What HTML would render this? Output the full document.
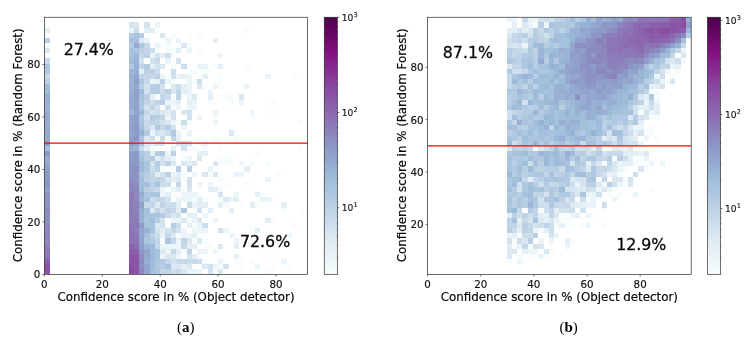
<!DOCTYPE html>
<html><head><meta charset="utf-8"><title>Confidence score histograms</title>
<style>
html,body{margin:0;padding:0;background:#fff;}
body{width:754px;height:339px;overflow:hidden;}
svg{display:block;}
.tk{font-family:"DejaVu Sans","Liberation Sans",sans-serif;font-size:10.3px;fill:#111;stroke:#111;stroke-width:0.15px;}
.cb{font-family:"DejaVu Sans","Liberation Sans",sans-serif;font-size:9.1px;fill:#111;stroke:#111;stroke-width:0.12px;}
.lb{font-family:"DejaVu Sans","Liberation Sans",sans-serif;font-size:11.85px;fill:#0a0a0a;stroke:#0a0a0a;stroke-width:0.2px;}
.pc{font-family:"DejaVu Sans","Liberation Sans",sans-serif;font-size:15.8px;fill:#0a0a0a;stroke:#0a0a0a;stroke-width:0.3px;}
.cap{font-family:"Liberation Serif","DejaVu Serif",serif;font-size:15px;fill:#000;}
</style></head><body>
<svg width="754" height="339" viewBox="0 0 754 339">
<rect width="754" height="339" fill="#fff"/>
<defs><filter id="bl" x="-2%" y="-2%" width="104%" height="104%"><feGaussianBlur stdDeviation="0.6"/></filter>
<clipPath id="ca"><rect x="44.35" y="17.25" width="263.25" height="257.15"/></clipPath>
<clipPath id="cbp"><rect x="427.55" y="17.25" width="263.65" height="257.2"/></clipPath></defs>
<g id="ha" shape-rendering="crispEdges" filter="url(#bl)" clip-path="url(#ca)"><rect x="44.35" y="269.26" width="5.27" height="5.14" fill="#8a56a7"/>
<rect x="128.59" y="269.26" width="5.27" height="5.14" fill="#894ca2"/>
<rect x="133.86" y="269.26" width="5.26" height="5.14" fill="#8a55a7"/>
<rect x="139.12" y="269.26" width="5.26" height="5.14" fill="#8c88bf"/>
<rect x="144.38" y="269.26" width="5.27" height="5.14" fill="#92a3cd"/>
<rect x="149.65" y="269.26" width="5.27" height="5.14" fill="#a2bfdb"/>
<rect x="154.92" y="269.26" width="5.26" height="5.14" fill="#aec7e0"/>
<rect x="160.18" y="269.26" width="10.53" height="5.14" fill="#c2d5e7"/>
<rect x="170.71" y="269.26" width="5.26" height="5.14" fill="#ccddec"/>
<rect x="175.97" y="269.26" width="5.26" height="5.14" fill="#c6d8e9"/>
<rect x="181.24" y="269.26" width="5.27" height="5.14" fill="#dbe8f2"/>
<rect x="186.50" y="269.26" width="15.79" height="5.14" fill="#ebf4f8"/>
<rect x="207.56" y="269.26" width="5.26" height="5.14" fill="#d2e2ee"/>
<rect x="212.83" y="269.26" width="5.27" height="5.14" fill="#f7fcfd"/>
<rect x="218.09" y="269.26" width="5.27" height="5.14" fill="#dbe8f2"/>
<rect x="265.48" y="269.26" width="5.26" height="5.14" fill="#f7fcfd"/>
<rect x="44.35" y="264.11" width="5.27" height="5.14" fill="#8a51a5"/>
<rect x="128.59" y="264.11" width="5.27" height="5.14" fill="#8950a4"/>
<rect x="133.86" y="264.11" width="5.26" height="5.14" fill="#8a56a7"/>
<rect x="139.12" y="264.11" width="5.26" height="5.14" fill="#8c91c4"/>
<rect x="144.38" y="264.11" width="5.27" height="5.14" fill="#93a5ce"/>
<rect x="149.65" y="264.11" width="5.27" height="5.14" fill="#9ebcda"/>
<rect x="154.92" y="264.11" width="5.26" height="5.14" fill="#b1c9e1"/>
<rect x="160.18" y="264.11" width="5.26" height="5.14" fill="#b9cee4"/>
<rect x="165.44" y="264.11" width="5.27" height="5.14" fill="#a9c4de"/>
<rect x="170.71" y="264.11" width="10.53" height="5.14" fill="#dbe8f2"/>
<rect x="181.24" y="264.11" width="5.27" height="5.14" fill="#e3eef5"/>
<rect x="186.50" y="264.11" width="5.27" height="5.14" fill="#dbe8f2"/>
<rect x="191.77" y="264.11" width="5.26" height="5.14" fill="#f7fcfd"/>
<rect x="202.30" y="264.11" width="5.27" height="5.14" fill="#dbe8f2"/>
<rect x="207.56" y="264.11" width="5.26" height="5.14" fill="#d2e2ee"/>
<rect x="212.83" y="264.11" width="5.27" height="5.14" fill="#ebf4f8"/>
<rect x="218.09" y="264.11" width="5.27" height="5.14" fill="#f7fcfd"/>
<rect x="223.36" y="264.11" width="5.26" height="5.14" fill="#d2e2ee"/>
<rect x="239.16" y="264.11" width="5.26" height="5.14" fill="#f7fcfd"/>
<rect x="254.95" y="264.11" width="5.26" height="5.14" fill="#ebf4f8"/>
<rect x="270.75" y="264.11" width="5.26" height="5.14" fill="#f7fcfd"/>
<rect x="286.54" y="264.11" width="5.26" height="5.14" fill="#f7fcfd"/>
<rect x="44.35" y="258.97" width="5.27" height="5.14" fill="#8b5daa"/>
<rect x="128.59" y="258.97" width="5.27" height="5.14" fill="#8a51a5"/>
<rect x="133.86" y="258.97" width="5.26" height="5.14" fill="#8a54a6"/>
<rect x="139.12" y="258.97" width="5.26" height="5.14" fill="#8c8bc0"/>
<rect x="144.38" y="258.97" width="5.27" height="5.14" fill="#98aed3"/>
<rect x="149.65" y="258.97" width="5.27" height="5.14" fill="#9ebcda"/>
<rect x="154.92" y="258.97" width="5.26" height="5.14" fill="#aec7e0"/>
<rect x="160.18" y="258.97" width="5.26" height="5.14" fill="#b1c9e1"/>
<rect x="165.44" y="258.97" width="5.27" height="5.14" fill="#c6d8e9"/>
<rect x="170.71" y="258.97" width="5.26" height="5.14" fill="#d2e2ee"/>
<rect x="175.97" y="258.97" width="10.53" height="5.14" fill="#c6d8e9"/>
<rect x="186.50" y="258.97" width="5.27" height="5.14" fill="#ccddec"/>
<rect x="191.77" y="258.97" width="5.26" height="5.14" fill="#c6d8e9"/>
<rect x="197.03" y="258.97" width="5.26" height="5.14" fill="#ccddec"/>
<rect x="202.30" y="258.97" width="5.27" height="5.14" fill="#f7fcfd"/>
<rect x="218.09" y="258.97" width="5.27" height="5.14" fill="#ebf4f8"/>
<rect x="233.89" y="258.97" width="10.53" height="5.14" fill="#f7fcfd"/>
<rect x="249.69" y="258.97" width="5.26" height="5.14" fill="#f7fcfd"/>
<rect x="281.28" y="258.97" width="5.26" height="5.14" fill="#ebf4f8"/>
<rect x="44.35" y="253.83" width="5.27" height="5.14" fill="#8c75b6"/>
<rect x="128.59" y="253.83" width="5.27" height="5.14" fill="#8a55a7"/>
<rect x="133.86" y="253.83" width="5.26" height="5.14" fill="#8a56a7"/>
<rect x="139.12" y="253.83" width="5.26" height="5.14" fill="#8c93c4"/>
<rect x="144.38" y="253.83" width="5.27" height="5.14" fill="#95a8d0"/>
<rect x="149.65" y="253.83" width="5.27" height="5.14" fill="#9db9d9"/>
<rect x="154.92" y="253.83" width="5.26" height="5.14" fill="#a9c4de"/>
<rect x="160.18" y="253.83" width="5.26" height="5.14" fill="#ebf4f8"/>
<rect x="165.44" y="253.83" width="10.53" height="5.14" fill="#dbe8f2"/>
<rect x="175.97" y="253.83" width="5.26" height="5.14" fill="#ebf4f8"/>
<rect x="186.50" y="253.83" width="5.27" height="5.14" fill="#d2e2ee"/>
<rect x="191.77" y="253.83" width="5.26" height="5.14" fill="#e3eef5"/>
<rect x="197.03" y="253.83" width="5.26" height="5.14" fill="#f7fcfd"/>
<rect x="233.89" y="253.83" width="5.26" height="5.14" fill="#e3eef5"/>
<rect x="270.75" y="253.83" width="5.26" height="5.14" fill="#f7fcfd"/>
<rect x="44.35" y="248.68" width="5.27" height="5.14" fill="#8c79b8"/>
<rect x="128.59" y="248.68" width="5.27" height="5.14" fill="#8b5daa"/>
<rect x="133.86" y="248.68" width="5.26" height="5.14" fill="#8b61ac"/>
<rect x="139.12" y="248.68" width="5.26" height="5.14" fill="#8d98c7"/>
<rect x="144.38" y="248.68" width="5.27" height="5.14" fill="#94a6ce"/>
<rect x="149.65" y="248.68" width="5.27" height="5.14" fill="#a0bddb"/>
<rect x="154.92" y="248.68" width="5.26" height="5.14" fill="#a6c2dd"/>
<rect x="160.18" y="248.68" width="5.26" height="5.14" fill="#dbe8f2"/>
<rect x="165.44" y="248.68" width="5.27" height="5.14" fill="#ebf4f8"/>
<rect x="170.71" y="248.68" width="5.26" height="5.14" fill="#c6d8e9"/>
<rect x="175.97" y="248.68" width="5.26" height="5.14" fill="#e3eef5"/>
<rect x="181.24" y="248.68" width="5.27" height="5.14" fill="#f7fcfd"/>
<rect x="186.50" y="248.68" width="5.27" height="5.14" fill="#c2d5e7"/>
<rect x="197.03" y="248.68" width="10.53" height="5.14" fill="#ebf4f8"/>
<rect x="212.83" y="248.68" width="5.27" height="5.14" fill="#ebf4f8"/>
<rect x="44.35" y="243.54" width="5.27" height="5.14" fill="#8c82bc"/>
<rect x="128.59" y="243.54" width="5.27" height="5.14" fill="#8b64ad"/>
<rect x="133.86" y="243.54" width="5.26" height="5.14" fill="#8c6cb1"/>
<rect x="139.12" y="243.54" width="5.26" height="5.14" fill="#909eca"/>
<rect x="144.38" y="243.54" width="5.27" height="5.14" fill="#9ab4d6"/>
<rect x="149.65" y="243.54" width="5.27" height="5.14" fill="#9ebcda"/>
<rect x="154.92" y="243.54" width="5.26" height="5.14" fill="#c6d8e9"/>
<rect x="160.18" y="243.54" width="21.06" height="5.14" fill="#ebf4f8"/>
<rect x="181.24" y="243.54" width="5.27" height="5.14" fill="#c6d8e9"/>
<rect x="186.50" y="243.54" width="10.53" height="5.14" fill="#e3eef5"/>
<rect x="207.56" y="243.54" width="5.26" height="5.14" fill="#f7fcfd"/>
<rect x="218.09" y="243.54" width="5.27" height="5.14" fill="#dbe8f2"/>
<rect x="233.89" y="243.54" width="5.26" height="5.14" fill="#e3eef5"/>
<rect x="254.95" y="243.54" width="5.26" height="5.14" fill="#f7fcfd"/>
<rect x="270.75" y="243.54" width="5.26" height="5.14" fill="#f7fcfd"/>
<rect x="44.35" y="238.40" width="5.27" height="5.14" fill="#8c8bc0"/>
<rect x="128.59" y="238.40" width="5.27" height="5.14" fill="#8c72b5"/>
<rect x="133.86" y="238.40" width="5.26" height="5.14" fill="#8c74b5"/>
<rect x="139.12" y="238.40" width="5.26" height="5.14" fill="#92a3cd"/>
<rect x="144.38" y="238.40" width="5.27" height="5.14" fill="#abc5df"/>
<rect x="149.65" y="238.40" width="5.27" height="5.14" fill="#b1c9e1"/>
<rect x="154.92" y="238.40" width="5.26" height="5.14" fill="#c2d5e7"/>
<rect x="160.18" y="238.40" width="5.26" height="5.14" fill="#f7fcfd"/>
<rect x="165.44" y="238.40" width="5.27" height="5.14" fill="#abc5df"/>
<rect x="170.71" y="238.40" width="5.26" height="5.14" fill="#c6d8e9"/>
<rect x="175.97" y="238.40" width="5.26" height="5.14" fill="#ebf4f8"/>
<rect x="181.24" y="238.40" width="5.27" height="5.14" fill="#c2d5e7"/>
<rect x="186.50" y="238.40" width="5.27" height="5.14" fill="#dbe8f2"/>
<rect x="191.77" y="238.40" width="5.26" height="5.14" fill="#f7fcfd"/>
<rect x="197.03" y="238.40" width="5.26" height="5.14" fill="#dbe8f2"/>
<rect x="202.30" y="238.40" width="5.27" height="5.14" fill="#f7fcfd"/>
<rect x="233.89" y="238.40" width="5.26" height="5.14" fill="#ebf4f8"/>
<rect x="270.75" y="238.40" width="5.26" height="5.14" fill="#f7fcfd"/>
<rect x="44.35" y="233.26" width="5.27" height="5.14" fill="#8c86be"/>
<rect x="128.59" y="233.26" width="5.27" height="5.14" fill="#8c72b5"/>
<rect x="133.86" y="233.26" width="5.26" height="5.14" fill="#8c7ab8"/>
<rect x="139.12" y="233.26" width="5.26" height="5.14" fill="#95a8d0"/>
<rect x="144.38" y="233.26" width="5.27" height="5.14" fill="#a4c0dc"/>
<rect x="149.65" y="233.26" width="5.27" height="5.14" fill="#bdd1e5"/>
<rect x="154.92" y="233.26" width="5.26" height="5.14" fill="#ccddec"/>
<rect x="160.18" y="233.26" width="5.26" height="5.14" fill="#e3eef5"/>
<rect x="165.44" y="233.26" width="5.27" height="5.14" fill="#c6d8e9"/>
<rect x="170.71" y="233.26" width="5.26" height="5.14" fill="#dbe8f2"/>
<rect x="175.97" y="233.26" width="5.26" height="5.14" fill="#f7fcfd"/>
<rect x="181.24" y="233.26" width="10.53" height="5.14" fill="#ebf4f8"/>
<rect x="191.77" y="233.26" width="5.26" height="5.14" fill="#e3eef5"/>
<rect x="202.30" y="233.26" width="5.27" height="5.14" fill="#f7fcfd"/>
<rect x="228.62" y="233.26" width="5.27" height="5.14" fill="#ebf4f8"/>
<rect x="233.89" y="233.26" width="5.26" height="5.14" fill="#f7fcfd"/>
<rect x="286.54" y="233.26" width="5.26" height="5.14" fill="#ebf4f8"/>
<rect x="44.35" y="228.11" width="5.27" height="5.14" fill="#8c89c0"/>
<rect x="128.59" y="228.11" width="5.27" height="5.14" fill="#8c75b6"/>
<rect x="133.86" y="228.11" width="5.26" height="5.14" fill="#8c7eba"/>
<rect x="139.12" y="228.11" width="5.26" height="5.14" fill="#94a6ce"/>
<rect x="144.38" y="228.11" width="5.27" height="5.14" fill="#99b2d5"/>
<rect x="149.65" y="228.11" width="5.27" height="5.14" fill="#a9c4de"/>
<rect x="154.92" y="228.11" width="5.26" height="5.14" fill="#d2e2ee"/>
<rect x="160.18" y="228.11" width="5.26" height="5.14" fill="#e3eef5"/>
<rect x="165.44" y="228.11" width="5.27" height="5.14" fill="#d2e2ee"/>
<rect x="170.71" y="228.11" width="5.26" height="5.14" fill="#c6d8e9"/>
<rect x="175.97" y="228.11" width="5.26" height="5.14" fill="#d2e2ee"/>
<rect x="181.24" y="228.11" width="5.27" height="5.14" fill="#ebf4f8"/>
<rect x="191.77" y="228.11" width="15.79" height="5.14" fill="#ebf4f8"/>
<rect x="218.09" y="228.11" width="5.27" height="5.14" fill="#d2e2ee"/>
<rect x="223.36" y="228.11" width="5.26" height="5.14" fill="#ebf4f8"/>
<rect x="249.69" y="228.11" width="5.26" height="5.14" fill="#f7fcfd"/>
<rect x="254.95" y="228.11" width="5.26" height="5.14" fill="#e3eef5"/>
<rect x="44.35" y="222.97" width="5.27" height="5.14" fill="#8c89c0"/>
<rect x="128.59" y="222.97" width="5.27" height="5.14" fill="#8c75b6"/>
<rect x="133.86" y="222.97" width="5.26" height="5.14" fill="#8c78b7"/>
<rect x="139.12" y="222.97" width="5.26" height="5.14" fill="#8f9bc9"/>
<rect x="144.38" y="222.97" width="5.27" height="5.14" fill="#a9c4de"/>
<rect x="149.65" y="222.97" width="5.27" height="5.14" fill="#abc5df"/>
<rect x="154.92" y="222.97" width="5.26" height="5.14" fill="#dbe8f2"/>
<rect x="160.18" y="222.97" width="5.26" height="5.14" fill="#d2e2ee"/>
<rect x="165.44" y="222.97" width="5.27" height="5.14" fill="#f7fcfd"/>
<rect x="170.71" y="222.97" width="5.26" height="5.14" fill="#b5cce3"/>
<rect x="175.97" y="222.97" width="5.26" height="5.14" fill="#ccddec"/>
<rect x="186.50" y="222.97" width="5.27" height="5.14" fill="#e3eef5"/>
<rect x="191.77" y="222.97" width="5.26" height="5.14" fill="#f7fcfd"/>
<rect x="197.03" y="222.97" width="5.26" height="5.14" fill="#ebf4f8"/>
<rect x="202.30" y="222.97" width="5.27" height="5.14" fill="#ccddec"/>
<rect x="291.81" y="222.97" width="5.27" height="5.14" fill="#f7fcfd"/>
<rect x="44.35" y="217.83" width="5.27" height="5.14" fill="#8c8fc2"/>
<rect x="128.59" y="217.83" width="5.27" height="5.14" fill="#8c7cb9"/>
<rect x="133.86" y="217.83" width="5.26" height="5.14" fill="#8c79b8"/>
<rect x="139.12" y="217.83" width="5.26" height="5.14" fill="#99b1d4"/>
<rect x="144.38" y="217.83" width="5.27" height="5.14" fill="#abc5df"/>
<rect x="149.65" y="217.83" width="5.27" height="5.14" fill="#a0bddb"/>
<rect x="154.92" y="217.83" width="5.26" height="5.14" fill="#b9cee4"/>
<rect x="160.18" y="217.83" width="5.26" height="5.14" fill="#d2e2ee"/>
<rect x="170.71" y="217.83" width="10.53" height="5.14" fill="#ebf4f8"/>
<rect x="181.24" y="217.83" width="5.27" height="5.14" fill="#dbe8f2"/>
<rect x="186.50" y="217.83" width="5.27" height="5.14" fill="#f7fcfd"/>
<rect x="191.77" y="217.83" width="5.26" height="5.14" fill="#ebf4f8"/>
<rect x="197.03" y="217.83" width="5.26" height="5.14" fill="#dbe8f2"/>
<rect x="207.56" y="217.83" width="5.26" height="5.14" fill="#f7fcfd"/>
<rect x="212.83" y="217.83" width="5.27" height="5.14" fill="#ebf4f8"/>
<rect x="265.48" y="217.83" width="5.26" height="5.14" fill="#e3eef5"/>
<rect x="270.75" y="217.83" width="5.26" height="5.14" fill="#f7fcfd"/>
<rect x="44.35" y="212.68" width="5.27" height="5.14" fill="#8c91c4"/>
<rect x="128.59" y="212.68" width="5.27" height="5.14" fill="#8c79b8"/>
<rect x="133.86" y="212.68" width="5.26" height="5.14" fill="#8c80bb"/>
<rect x="139.12" y="212.68" width="5.26" height="5.14" fill="#99b1d4"/>
<rect x="144.38" y="212.68" width="5.27" height="5.14" fill="#a6c2dd"/>
<rect x="149.65" y="212.68" width="5.27" height="5.14" fill="#aec7e0"/>
<rect x="154.92" y="212.68" width="5.26" height="5.14" fill="#abc5df"/>
<rect x="160.18" y="212.68" width="5.26" height="5.14" fill="#b5cce3"/>
<rect x="165.44" y="212.68" width="5.27" height="5.14" fill="#c6d8e9"/>
<rect x="170.71" y="212.68" width="5.26" height="5.14" fill="#dbe8f2"/>
<rect x="175.97" y="212.68" width="5.26" height="5.14" fill="#d2e2ee"/>
<rect x="181.24" y="212.68" width="5.27" height="5.14" fill="#f7fcfd"/>
<rect x="186.50" y="212.68" width="10.53" height="5.14" fill="#e3eef5"/>
<rect x="202.30" y="212.68" width="5.27" height="5.14" fill="#ebf4f8"/>
<rect x="44.35" y="207.54" width="5.27" height="5.14" fill="#8c89c0"/>
<rect x="128.59" y="207.54" width="5.27" height="5.14" fill="#8c79b8"/>
<rect x="133.86" y="207.54" width="5.26" height="5.14" fill="#8c82bc"/>
<rect x="139.12" y="207.54" width="5.26" height="5.14" fill="#97add2"/>
<rect x="144.38" y="207.54" width="5.27" height="5.14" fill="#a2bfdb"/>
<rect x="149.65" y="207.54" width="5.27" height="5.14" fill="#dbe8f2"/>
<rect x="154.92" y="207.54" width="5.26" height="5.14" fill="#c2d5e7"/>
<rect x="160.18" y="207.54" width="5.26" height="5.14" fill="#d2e2ee"/>
<rect x="165.44" y="207.54" width="5.27" height="5.14" fill="#c2d5e7"/>
<rect x="170.71" y="207.54" width="5.26" height="5.14" fill="#c6d8e9"/>
<rect x="175.97" y="207.54" width="5.26" height="5.14" fill="#e3eef5"/>
<rect x="181.24" y="207.54" width="5.27" height="5.14" fill="#aec7e0"/>
<rect x="191.77" y="207.54" width="5.26" height="5.14" fill="#f7fcfd"/>
<rect x="197.03" y="207.54" width="5.26" height="5.14" fill="#d2e2ee"/>
<rect x="207.56" y="207.54" width="5.26" height="5.14" fill="#e3eef5"/>
<rect x="228.62" y="207.54" width="5.27" height="5.14" fill="#e3eef5"/>
<rect x="281.28" y="207.54" width="5.26" height="5.14" fill="#f7fcfd"/>
<rect x="302.34" y="207.54" width="5.26" height="5.14" fill="#f7fcfd"/>
<rect x="44.35" y="202.40" width="5.27" height="5.14" fill="#8c93c4"/>
<rect x="128.59" y="202.40" width="5.27" height="5.14" fill="#8c7dba"/>
<rect x="133.86" y="202.40" width="5.26" height="5.14" fill="#8c80bb"/>
<rect x="139.12" y="202.40" width="5.26" height="5.14" fill="#91a0cb"/>
<rect x="144.38" y="202.40" width="5.27" height="5.14" fill="#c6d8e9"/>
<rect x="149.65" y="202.40" width="5.27" height="5.14" fill="#c2d5e7"/>
<rect x="154.92" y="202.40" width="5.26" height="5.14" fill="#dbe8f2"/>
<rect x="160.18" y="202.40" width="5.26" height="5.14" fill="#c2d5e7"/>
<rect x="165.44" y="202.40" width="10.53" height="5.14" fill="#ccddec"/>
<rect x="175.97" y="202.40" width="5.26" height="5.14" fill="#e3eef5"/>
<rect x="186.50" y="202.40" width="5.27" height="5.14" fill="#ccddec"/>
<rect x="191.77" y="202.40" width="5.26" height="5.14" fill="#ebf4f8"/>
<rect x="197.03" y="202.40" width="10.53" height="5.14" fill="#e3eef5"/>
<rect x="218.09" y="202.40" width="5.27" height="5.14" fill="#e3eef5"/>
<rect x="223.36" y="202.40" width="5.26" height="5.14" fill="#f7fcfd"/>
<rect x="239.16" y="202.40" width="5.26" height="5.14" fill="#f7fcfd"/>
<rect x="249.69" y="202.40" width="5.26" height="5.14" fill="#e3eef5"/>
<rect x="254.95" y="202.40" width="5.26" height="5.14" fill="#f7fcfd"/>
<rect x="281.28" y="202.40" width="5.26" height="5.14" fill="#e3eef5"/>
<rect x="44.35" y="197.25" width="5.27" height="5.14" fill="#8c93c4"/>
<rect x="128.59" y="197.25" width="5.27" height="5.14" fill="#8c7cb9"/>
<rect x="133.86" y="197.25" width="5.26" height="5.14" fill="#8c85be"/>
<rect x="139.12" y="197.25" width="5.26" height="5.14" fill="#9ab4d6"/>
<rect x="144.38" y="197.25" width="5.27" height="5.14" fill="#a6c2dd"/>
<rect x="149.65" y="197.25" width="5.27" height="5.14" fill="#ccddec"/>
<rect x="154.92" y="197.25" width="5.26" height="5.14" fill="#c2d5e7"/>
<rect x="160.18" y="197.25" width="5.26" height="5.14" fill="#c6d8e9"/>
<rect x="165.44" y="197.25" width="5.27" height="5.14" fill="#d2e2ee"/>
<rect x="175.97" y="197.25" width="15.80" height="5.14" fill="#ebf4f8"/>
<rect x="191.77" y="197.25" width="5.26" height="5.14" fill="#f7fcfd"/>
<rect x="197.03" y="197.25" width="5.26" height="5.14" fill="#e3eef5"/>
<rect x="202.30" y="197.25" width="5.27" height="5.14" fill="#f7fcfd"/>
<rect x="212.83" y="197.25" width="10.53" height="5.14" fill="#f7fcfd"/>
<rect x="223.36" y="197.25" width="5.26" height="5.14" fill="#dbe8f2"/>
<rect x="228.62" y="197.25" width="5.27" height="5.14" fill="#ebf4f8"/>
<rect x="233.89" y="197.25" width="5.26" height="5.14" fill="#e3eef5"/>
<rect x="260.21" y="197.25" width="10.53" height="5.14" fill="#ebf4f8"/>
<rect x="270.75" y="197.25" width="5.26" height="5.14" fill="#f7fcfd"/>
<rect x="44.35" y="192.11" width="5.27" height="5.14" fill="#8c95c6"/>
<rect x="128.59" y="192.11" width="5.27" height="5.14" fill="#8c79b8"/>
<rect x="133.86" y="192.11" width="5.26" height="5.14" fill="#8c89c0"/>
<rect x="139.12" y="192.11" width="5.26" height="5.14" fill="#96abd1"/>
<rect x="144.38" y="192.11" width="5.27" height="5.14" fill="#aec7e0"/>
<rect x="149.65" y="192.11" width="5.27" height="5.14" fill="#a9c4de"/>
<rect x="154.92" y="192.11" width="5.26" height="5.14" fill="#abc5df"/>
<rect x="160.18" y="192.11" width="5.26" height="5.14" fill="#ebf4f8"/>
<rect x="165.44" y="192.11" width="5.27" height="5.14" fill="#e3eef5"/>
<rect x="170.71" y="192.11" width="5.26" height="5.14" fill="#f7fcfd"/>
<rect x="181.24" y="192.11" width="15.80" height="5.14" fill="#ebf4f8"/>
<rect x="197.03" y="192.11" width="5.26" height="5.14" fill="#f7fcfd"/>
<rect x="218.09" y="192.11" width="5.27" height="5.14" fill="#d2e2ee"/>
<rect x="233.89" y="192.11" width="5.26" height="5.14" fill="#ebf4f8"/>
<rect x="254.95" y="192.11" width="5.26" height="5.14" fill="#e3eef5"/>
<rect x="260.21" y="192.11" width="5.27" height="5.14" fill="#f7fcfd"/>
<rect x="44.35" y="186.97" width="5.27" height="5.14" fill="#91a0cb"/>
<rect x="128.59" y="186.97" width="5.27" height="5.14" fill="#8c86be"/>
<rect x="133.86" y="186.97" width="5.26" height="5.14" fill="#8c82bc"/>
<rect x="139.12" y="186.97" width="5.26" height="5.14" fill="#9ebcda"/>
<rect x="144.38" y="186.97" width="5.27" height="5.14" fill="#bdd1e5"/>
<rect x="149.65" y="186.97" width="5.27" height="5.14" fill="#c2d5e7"/>
<rect x="154.92" y="186.97" width="5.26" height="5.14" fill="#c6d8e9"/>
<rect x="160.18" y="186.97" width="5.26" height="5.14" fill="#ebf4f8"/>
<rect x="165.44" y="186.97" width="5.27" height="5.14" fill="#f7fcfd"/>
<rect x="170.71" y="186.97" width="5.26" height="5.14" fill="#ebf4f8"/>
<rect x="175.97" y="186.97" width="5.26" height="5.14" fill="#e3eef5"/>
<rect x="181.24" y="186.97" width="5.27" height="5.14" fill="#f7fcfd"/>
<rect x="186.50" y="186.97" width="5.27" height="5.14" fill="#dbe8f2"/>
<rect x="207.56" y="186.97" width="10.53" height="5.14" fill="#e3eef5"/>
<rect x="218.09" y="186.97" width="5.27" height="5.14" fill="#f7fcfd"/>
<rect x="44.35" y="181.83" width="5.27" height="5.14" fill="#8c93c4"/>
<rect x="128.59" y="181.83" width="5.27" height="5.14" fill="#8c85be"/>
<rect x="133.86" y="181.83" width="5.26" height="5.14" fill="#8c8fc2"/>
<rect x="139.12" y="181.83" width="5.26" height="5.14" fill="#a2bfdb"/>
<rect x="144.38" y="181.83" width="5.27" height="5.14" fill="#a4c0dc"/>
<rect x="149.65" y="181.83" width="5.27" height="5.14" fill="#bdd1e5"/>
<rect x="154.92" y="181.83" width="5.26" height="5.14" fill="#abc5df"/>
<rect x="160.18" y="181.83" width="10.53" height="5.14" fill="#ccddec"/>
<rect x="175.97" y="181.83" width="5.26" height="5.14" fill="#c6d8e9"/>
<rect x="186.50" y="181.83" width="5.27" height="5.14" fill="#d2e2ee"/>
<rect x="197.03" y="181.83" width="5.26" height="5.14" fill="#ebf4f8"/>
<rect x="207.56" y="181.83" width="5.26" height="5.14" fill="#ebf4f8"/>
<rect x="223.36" y="181.83" width="5.26" height="5.14" fill="#f7fcfd"/>
<rect x="244.42" y="181.83" width="5.27" height="5.14" fill="#f7fcfd"/>
<rect x="44.35" y="176.68" width="5.27" height="5.14" fill="#8f9bc9"/>
<rect x="128.59" y="176.68" width="5.27" height="5.14" fill="#8c90c3"/>
<rect x="133.86" y="176.68" width="5.26" height="5.14" fill="#8c93c4"/>
<rect x="139.12" y="176.68" width="5.26" height="5.14" fill="#a0bddb"/>
<rect x="144.38" y="176.68" width="5.27" height="5.14" fill="#bdd1e5"/>
<rect x="149.65" y="176.68" width="5.27" height="5.14" fill="#c2d5e7"/>
<rect x="154.92" y="176.68" width="5.26" height="5.14" fill="#bdd1e5"/>
<rect x="160.18" y="176.68" width="5.26" height="5.14" fill="#c2d5e7"/>
<rect x="165.44" y="176.68" width="5.27" height="5.14" fill="#dbe8f2"/>
<rect x="170.71" y="176.68" width="5.26" height="5.14" fill="#e3eef5"/>
<rect x="175.97" y="176.68" width="5.26" height="5.14" fill="#dbe8f2"/>
<rect x="181.24" y="176.68" width="5.27" height="5.14" fill="#f7fcfd"/>
<rect x="186.50" y="176.68" width="5.27" height="5.14" fill="#d2e2ee"/>
<rect x="218.09" y="176.68" width="5.27" height="5.14" fill="#f7fcfd"/>
<rect x="265.48" y="176.68" width="5.26" height="5.14" fill="#ebf4f8"/>
<rect x="44.35" y="171.54" width="5.27" height="5.14" fill="#8e9ac8"/>
<rect x="128.59" y="171.54" width="5.27" height="5.14" fill="#8c94c5"/>
<rect x="133.86" y="171.54" width="5.26" height="5.14" fill="#8c93c4"/>
<rect x="139.12" y="171.54" width="5.26" height="5.14" fill="#abc5df"/>
<rect x="144.38" y="171.54" width="5.27" height="5.14" fill="#b5cce3"/>
<rect x="149.65" y="171.54" width="5.27" height="5.14" fill="#c2d5e7"/>
<rect x="154.92" y="171.54" width="5.26" height="5.14" fill="#e3eef5"/>
<rect x="160.18" y="171.54" width="5.26" height="5.14" fill="#d2e2ee"/>
<rect x="165.44" y="171.54" width="5.27" height="5.14" fill="#bdd1e5"/>
<rect x="170.71" y="171.54" width="5.26" height="5.14" fill="#ebf4f8"/>
<rect x="175.97" y="171.54" width="5.26" height="5.14" fill="#e3eef5"/>
<rect x="181.24" y="171.54" width="5.27" height="5.14" fill="#f7fcfd"/>
<rect x="191.77" y="171.54" width="5.26" height="5.14" fill="#ebf4f8"/>
<rect x="202.30" y="171.54" width="5.27" height="5.14" fill="#dbe8f2"/>
<rect x="207.56" y="171.54" width="5.26" height="5.14" fill="#f7fcfd"/>
<rect x="212.83" y="171.54" width="5.27" height="5.14" fill="#dbe8f2"/>
<rect x="218.09" y="171.54" width="5.27" height="5.14" fill="#f7fcfd"/>
<rect x="233.89" y="171.54" width="10.53" height="5.14" fill="#ebf4f8"/>
<rect x="276.01" y="171.54" width="5.27" height="5.14" fill="#f7fcfd"/>
<rect x="44.35" y="166.40" width="5.27" height="5.14" fill="#909fcb"/>
<rect x="128.59" y="166.40" width="5.27" height="5.14" fill="#8c97c6"/>
<rect x="133.86" y="166.40" width="5.26" height="5.14" fill="#8c8dc2"/>
<rect x="139.12" y="166.40" width="5.26" height="5.14" fill="#9db9d9"/>
<rect x="144.38" y="166.40" width="5.27" height="5.14" fill="#aec7e0"/>
<rect x="149.65" y="166.40" width="5.27" height="5.14" fill="#ccddec"/>
<rect x="154.92" y="166.40" width="5.26" height="5.14" fill="#bdd1e5"/>
<rect x="160.18" y="166.40" width="5.26" height="5.14" fill="#f7fcfd"/>
<rect x="170.71" y="166.40" width="5.26" height="5.14" fill="#f7fcfd"/>
<rect x="175.97" y="166.40" width="5.26" height="5.14" fill="#b9cee4"/>
<rect x="186.50" y="166.40" width="5.27" height="5.14" fill="#bdd1e5"/>
<rect x="207.56" y="166.40" width="5.26" height="5.14" fill="#ebf4f8"/>
<rect x="244.42" y="166.40" width="5.27" height="5.14" fill="#e3eef5"/>
<rect x="44.35" y="161.25" width="5.27" height="5.14" fill="#95a8d0"/>
<rect x="128.59" y="161.25" width="10.53" height="5.14" fill="#8d98c7"/>
<rect x="139.12" y="161.25" width="5.26" height="5.14" fill="#9cb7d7"/>
<rect x="144.38" y="161.25" width="5.27" height="5.14" fill="#abc5df"/>
<rect x="149.65" y="161.25" width="5.27" height="5.14" fill="#d2e2ee"/>
<rect x="154.92" y="161.25" width="5.26" height="5.14" fill="#b5cce3"/>
<rect x="160.18" y="161.25" width="5.26" height="5.14" fill="#d2e2ee"/>
<rect x="165.44" y="161.25" width="5.27" height="5.14" fill="#bdd1e5"/>
<rect x="170.71" y="161.25" width="5.26" height="5.14" fill="#dbe8f2"/>
<rect x="181.24" y="161.25" width="5.27" height="5.14" fill="#dbe8f2"/>
<rect x="186.50" y="161.25" width="5.27" height="5.14" fill="#e3eef5"/>
<rect x="191.77" y="161.25" width="5.26" height="5.14" fill="#dbe8f2"/>
<rect x="212.83" y="161.25" width="5.27" height="5.14" fill="#dbe8f2"/>
<rect x="218.09" y="161.25" width="15.80" height="5.14" fill="#f7fcfd"/>
<rect x="239.16" y="161.25" width="5.26" height="5.14" fill="#ebf4f8"/>
<rect x="249.69" y="161.25" width="5.26" height="5.14" fill="#f7fcfd"/>
<rect x="265.48" y="161.25" width="5.26" height="5.14" fill="#f7fcfd"/>
<rect x="44.35" y="156.11" width="5.27" height="5.14" fill="#97add2"/>
<rect x="128.59" y="156.11" width="5.27" height="5.14" fill="#8f9bc9"/>
<rect x="133.86" y="156.11" width="5.26" height="5.14" fill="#8d98c7"/>
<rect x="139.12" y="156.11" width="5.26" height="5.14" fill="#a6c2dd"/>
<rect x="144.38" y="156.11" width="5.27" height="5.14" fill="#bdd1e5"/>
<rect x="149.65" y="156.11" width="5.27" height="5.14" fill="#b5cce3"/>
<rect x="154.92" y="156.11" width="5.26" height="5.14" fill="#e3eef5"/>
<rect x="160.18" y="156.11" width="5.26" height="5.14" fill="#d2e2ee"/>
<rect x="165.44" y="156.11" width="5.27" height="5.14" fill="#e3eef5"/>
<rect x="170.71" y="156.11" width="5.26" height="5.14" fill="#ebf4f8"/>
<rect x="181.24" y="156.11" width="5.27" height="5.14" fill="#f7fcfd"/>
<rect x="186.50" y="156.11" width="5.27" height="5.14" fill="#ebf4f8"/>
<rect x="197.03" y="156.11" width="5.26" height="5.14" fill="#dbe8f2"/>
<rect x="218.09" y="156.11" width="15.80" height="5.14" fill="#f7fcfd"/>
<rect x="44.35" y="150.97" width="5.27" height="5.14" fill="#8d98c7"/>
<rect x="128.59" y="150.97" width="5.27" height="5.14" fill="#8f9dc9"/>
<rect x="133.86" y="150.97" width="5.26" height="5.14" fill="#8d98c7"/>
<rect x="139.12" y="150.97" width="5.26" height="5.14" fill="#aec7e0"/>
<rect x="144.38" y="150.97" width="5.27" height="5.14" fill="#b9cee4"/>
<rect x="149.65" y="150.97" width="5.27" height="5.14" fill="#e3eef5"/>
<rect x="154.92" y="150.97" width="5.26" height="5.14" fill="#b9cee4"/>
<rect x="160.18" y="150.97" width="5.26" height="5.14" fill="#b1c9e1"/>
<rect x="165.44" y="150.97" width="5.27" height="5.14" fill="#ebf4f8"/>
<rect x="170.71" y="150.97" width="5.26" height="5.14" fill="#bdd1e5"/>
<rect x="181.24" y="150.97" width="5.27" height="5.14" fill="#f7fcfd"/>
<rect x="197.03" y="150.97" width="10.53" height="5.14" fill="#e3eef5"/>
<rect x="254.95" y="150.97" width="5.26" height="5.14" fill="#f7fcfd"/>
<rect x="44.35" y="145.82" width="5.27" height="5.14" fill="#a2bfdb"/>
<rect x="128.59" y="145.82" width="5.27" height="5.14" fill="#98aed3"/>
<rect x="133.86" y="145.82" width="5.26" height="5.14" fill="#9ab4d6"/>
<rect x="139.12" y="145.82" width="5.26" height="5.14" fill="#c6d8e9"/>
<rect x="144.38" y="145.82" width="5.27" height="5.14" fill="#e3eef5"/>
<rect x="149.65" y="145.82" width="5.27" height="5.14" fill="#f7fcfd"/>
<rect x="165.44" y="145.82" width="5.27" height="5.14" fill="#f7fcfd"/>
<rect x="170.71" y="145.82" width="5.26" height="5.14" fill="#e3eef5"/>
<rect x="181.24" y="145.82" width="5.27" height="5.14" fill="#d2e2ee"/>
<rect x="186.50" y="145.82" width="10.53" height="5.14" fill="#f7fcfd"/>
<rect x="202.30" y="145.82" width="5.27" height="5.14" fill="#f7fcfd"/>
<rect x="218.09" y="145.82" width="5.27" height="5.14" fill="#f7fcfd"/>
<rect x="297.07" y="145.82" width="5.26" height="5.14" fill="#f7fcfd"/>
<rect x="44.35" y="140.68" width="5.27" height="5.14" fill="#8f9bc9"/>
<rect x="128.59" y="140.68" width="5.27" height="5.14" fill="#8f9dc9"/>
<rect x="133.86" y="140.68" width="5.26" height="5.14" fill="#95a8d0"/>
<rect x="139.12" y="140.68" width="5.26" height="5.14" fill="#a9c4de"/>
<rect x="144.38" y="140.68" width="5.27" height="5.14" fill="#dbe8f2"/>
<rect x="149.65" y="140.68" width="5.27" height="5.14" fill="#e3eef5"/>
<rect x="154.92" y="140.68" width="10.53" height="5.14" fill="#d2e2ee"/>
<rect x="170.71" y="140.68" width="5.26" height="5.14" fill="#f7fcfd"/>
<rect x="175.97" y="140.68" width="10.53" height="5.14" fill="#d2e2ee"/>
<rect x="186.50" y="140.68" width="5.27" height="5.14" fill="#dbe8f2"/>
<rect x="197.03" y="140.68" width="5.26" height="5.14" fill="#f7fcfd"/>
<rect x="202.30" y="140.68" width="5.27" height="5.14" fill="#ebf4f8"/>
<rect x="44.35" y="135.54" width="5.27" height="5.14" fill="#95aad0"/>
<rect x="128.59" y="135.54" width="5.27" height="5.14" fill="#91a0cb"/>
<rect x="133.86" y="135.54" width="5.26" height="5.14" fill="#8c94c5"/>
<rect x="139.12" y="135.54" width="5.26" height="5.14" fill="#a6c2dd"/>
<rect x="144.38" y="135.54" width="5.27" height="5.14" fill="#dbe8f2"/>
<rect x="149.65" y="135.54" width="5.27" height="5.14" fill="#ccddec"/>
<rect x="154.92" y="135.54" width="5.26" height="5.14" fill="#f7fcfd"/>
<rect x="160.18" y="135.54" width="5.26" height="5.14" fill="#ccddec"/>
<rect x="165.44" y="135.54" width="5.27" height="5.14" fill="#f7fcfd"/>
<rect x="170.71" y="135.54" width="5.26" height="5.14" fill="#c2d5e7"/>
<rect x="175.97" y="135.54" width="5.26" height="5.14" fill="#e3eef5"/>
<rect x="186.50" y="135.54" width="5.27" height="5.14" fill="#f7fcfd"/>
<rect x="197.03" y="135.54" width="5.26" height="5.14" fill="#f7fcfd"/>
<rect x="212.83" y="135.54" width="5.27" height="5.14" fill="#f7fcfd"/>
<rect x="233.89" y="135.54" width="5.26" height="5.14" fill="#f7fcfd"/>
<rect x="44.35" y="130.40" width="5.27" height="5.14" fill="#95a8d0"/>
<rect x="128.59" y="130.40" width="5.27" height="5.14" fill="#93a5ce"/>
<rect x="133.86" y="130.40" width="5.26" height="5.14" fill="#8e9ac8"/>
<rect x="139.12" y="130.40" width="5.26" height="5.14" fill="#99b2d5"/>
<rect x="144.38" y="130.40" width="5.27" height="5.14" fill="#b5cce3"/>
<rect x="149.65" y="130.40" width="5.27" height="5.14" fill="#ebf4f8"/>
<rect x="154.92" y="130.40" width="5.26" height="5.14" fill="#d2e2ee"/>
<rect x="160.18" y="130.40" width="5.26" height="5.14" fill="#dbe8f2"/>
<rect x="165.44" y="130.40" width="5.27" height="5.14" fill="#ccddec"/>
<rect x="170.71" y="130.40" width="5.26" height="5.14" fill="#b1c9e1"/>
<rect x="175.97" y="130.40" width="5.26" height="5.14" fill="#ebf4f8"/>
<rect x="186.50" y="130.40" width="5.27" height="5.14" fill="#ebf4f8"/>
<rect x="228.62" y="130.40" width="5.27" height="5.14" fill="#dbe8f2"/>
<rect x="233.89" y="130.40" width="5.26" height="5.14" fill="#f7fcfd"/>
<rect x="44.35" y="125.25" width="5.27" height="5.14" fill="#97add2"/>
<rect x="128.59" y="125.25" width="5.27" height="5.14" fill="#909fcb"/>
<rect x="133.86" y="125.25" width="5.26" height="5.14" fill="#8c97c6"/>
<rect x="139.12" y="125.25" width="5.26" height="5.14" fill="#a2bfdb"/>
<rect x="144.38" y="125.25" width="5.27" height="5.14" fill="#c6d8e9"/>
<rect x="149.65" y="125.25" width="5.27" height="5.14" fill="#dbe8f2"/>
<rect x="154.92" y="125.25" width="5.26" height="5.14" fill="#b1c9e1"/>
<rect x="160.18" y="125.25" width="5.26" height="5.14" fill="#c6d8e9"/>
<rect x="165.44" y="125.25" width="5.27" height="5.14" fill="#b5cce3"/>
<rect x="170.71" y="125.25" width="5.26" height="5.14" fill="#d2e2ee"/>
<rect x="181.24" y="125.25" width="5.27" height="5.14" fill="#ebf4f8"/>
<rect x="44.35" y="120.11" width="5.27" height="5.14" fill="#95aad0"/>
<rect x="128.59" y="120.11" width="5.27" height="5.14" fill="#92a4cd"/>
<rect x="133.86" y="120.11" width="5.26" height="5.14" fill="#8f9dc9"/>
<rect x="139.12" y="120.11" width="5.26" height="5.14" fill="#abc5df"/>
<rect x="144.38" y="120.11" width="5.27" height="5.14" fill="#c6d8e9"/>
<rect x="149.65" y="120.11" width="5.27" height="5.14" fill="#bdd1e5"/>
<rect x="154.92" y="120.11" width="5.26" height="5.14" fill="#c2d5e7"/>
<rect x="160.18" y="120.11" width="5.26" height="5.14" fill="#d2e2ee"/>
<rect x="165.44" y="120.11" width="5.27" height="5.14" fill="#dbe8f2"/>
<rect x="170.71" y="120.11" width="5.26" height="5.14" fill="#ebf4f8"/>
<rect x="175.97" y="120.11" width="5.26" height="5.14" fill="#f7fcfd"/>
<rect x="181.24" y="120.11" width="5.27" height="5.14" fill="#ccddec"/>
<rect x="186.50" y="120.11" width="5.27" height="5.14" fill="#f7fcfd"/>
<rect x="212.83" y="120.11" width="5.27" height="5.14" fill="#ebf4f8"/>
<rect x="297.07" y="120.11" width="5.26" height="5.14" fill="#f7fcfd"/>
<rect x="44.35" y="114.97" width="5.27" height="5.14" fill="#95aad0"/>
<rect x="128.59" y="114.97" width="5.27" height="5.14" fill="#92a4cd"/>
<rect x="133.86" y="114.97" width="5.26" height="5.14" fill="#909eca"/>
<rect x="139.12" y="114.97" width="5.26" height="5.14" fill="#aec7e0"/>
<rect x="144.38" y="114.97" width="5.27" height="5.14" fill="#d2e2ee"/>
<rect x="149.65" y="114.97" width="5.27" height="5.14" fill="#b5cce3"/>
<rect x="154.92" y="114.97" width="5.26" height="5.14" fill="#b9cee4"/>
<rect x="160.18" y="114.97" width="5.26" height="5.14" fill="#c2d5e7"/>
<rect x="165.44" y="114.97" width="5.27" height="5.14" fill="#ebf4f8"/>
<rect x="170.71" y="114.97" width="5.26" height="5.14" fill="#d2e2ee"/>
<rect x="186.50" y="114.97" width="5.27" height="5.14" fill="#d2e2ee"/>
<rect x="197.03" y="114.97" width="5.26" height="5.14" fill="#ebf4f8"/>
<rect x="212.83" y="114.97" width="5.27" height="5.14" fill="#f7fcfd"/>
<rect x="249.69" y="114.97" width="5.26" height="5.14" fill="#f7fcfd"/>
<rect x="44.35" y="109.82" width="5.27" height="5.14" fill="#97add2"/>
<rect x="128.59" y="109.82" width="5.27" height="5.14" fill="#9cb7d7"/>
<rect x="133.86" y="109.82" width="5.26" height="5.14" fill="#93a5ce"/>
<rect x="139.12" y="109.82" width="5.26" height="5.14" fill="#9db9d9"/>
<rect x="144.38" y="109.82" width="5.27" height="5.14" fill="#c6d8e9"/>
<rect x="149.65" y="109.82" width="5.27" height="5.14" fill="#d2e2ee"/>
<rect x="154.92" y="109.82" width="5.26" height="5.14" fill="#ccddec"/>
<rect x="160.18" y="109.82" width="5.26" height="5.14" fill="#dbe8f2"/>
<rect x="165.44" y="109.82" width="5.27" height="5.14" fill="#e3eef5"/>
<rect x="170.71" y="109.82" width="5.26" height="5.14" fill="#d2e2ee"/>
<rect x="181.24" y="109.82" width="5.27" height="5.14" fill="#dbe8f2"/>
<rect x="186.50" y="109.82" width="5.27" height="5.14" fill="#d2e2ee"/>
<rect x="212.83" y="109.82" width="5.27" height="5.14" fill="#ebf4f8"/>
<rect x="249.69" y="109.82" width="5.26" height="5.14" fill="#ebf4f8"/>
<rect x="270.75" y="109.82" width="5.26" height="5.14" fill="#f7fcfd"/>
<rect x="44.35" y="104.68" width="5.27" height="5.14" fill="#99b2d5"/>
<rect x="128.59" y="104.68" width="5.27" height="5.14" fill="#97add2"/>
<rect x="133.86" y="104.68" width="5.26" height="5.14" fill="#909fcb"/>
<rect x="139.12" y="104.68" width="5.26" height="5.14" fill="#aec7e0"/>
<rect x="144.38" y="104.68" width="5.27" height="5.14" fill="#d2e2ee"/>
<rect x="149.65" y="104.68" width="5.27" height="5.14" fill="#c2d5e7"/>
<rect x="154.92" y="104.68" width="5.26" height="5.14" fill="#d2e2ee"/>
<rect x="165.44" y="104.68" width="5.27" height="5.14" fill="#d2e2ee"/>
<rect x="170.71" y="104.68" width="5.26" height="5.14" fill="#f7fcfd"/>
<rect x="175.97" y="104.68" width="5.26" height="5.14" fill="#ebf4f8"/>
<rect x="186.50" y="104.68" width="10.53" height="5.14" fill="#ebf4f8"/>
<rect x="44.35" y="99.54" width="5.27" height="5.14" fill="#99b1d4"/>
<rect x="128.59" y="99.54" width="5.27" height="5.14" fill="#95a8d0"/>
<rect x="133.86" y="99.54" width="5.26" height="5.14" fill="#92a3cd"/>
<rect x="139.12" y="99.54" width="5.26" height="5.14" fill="#aec7e0"/>
<rect x="144.38" y="99.54" width="5.27" height="5.14" fill="#c2d5e7"/>
<rect x="149.65" y="99.54" width="5.27" height="5.14" fill="#ccddec"/>
<rect x="154.92" y="99.54" width="5.26" height="5.14" fill="#c2d5e7"/>
<rect x="160.18" y="99.54" width="5.26" height="5.14" fill="#b9cee4"/>
<rect x="165.44" y="99.54" width="10.53" height="5.14" fill="#ebf4f8"/>
<rect x="175.97" y="99.54" width="5.26" height="5.14" fill="#e3eef5"/>
<rect x="186.50" y="99.54" width="5.27" height="5.14" fill="#e3eef5"/>
<rect x="191.77" y="99.54" width="5.26" height="5.14" fill="#ebf4f8"/>
<rect x="207.56" y="99.54" width="5.26" height="5.14" fill="#f7fcfd"/>
<rect x="228.62" y="99.54" width="5.27" height="5.14" fill="#f7fcfd"/>
<rect x="239.16" y="99.54" width="5.26" height="5.14" fill="#ebf4f8"/>
<rect x="270.75" y="99.54" width="5.26" height="5.14" fill="#f7fcfd"/>
<rect x="44.35" y="94.40" width="5.27" height="5.14" fill="#97add2"/>
<rect x="128.59" y="94.40" width="5.27" height="5.14" fill="#96abd1"/>
<rect x="133.86" y="94.40" width="5.26" height="5.14" fill="#909fcb"/>
<rect x="139.12" y="94.40" width="5.26" height="5.14" fill="#a6c2dd"/>
<rect x="144.38" y="94.40" width="5.27" height="5.14" fill="#b9cee4"/>
<rect x="149.65" y="94.40" width="5.27" height="5.14" fill="#e3eef5"/>
<rect x="154.92" y="94.40" width="5.26" height="5.14" fill="#f7fcfd"/>
<rect x="160.18" y="94.40" width="5.26" height="5.14" fill="#c6d8e9"/>
<rect x="165.44" y="94.40" width="5.27" height="5.14" fill="#ccddec"/>
<rect x="170.71" y="94.40" width="5.26" height="5.14" fill="#f7fcfd"/>
<rect x="175.97" y="94.40" width="5.26" height="5.14" fill="#c2d5e7"/>
<rect x="181.24" y="94.40" width="5.27" height="5.14" fill="#f7fcfd"/>
<rect x="186.50" y="94.40" width="5.27" height="5.14" fill="#ebf4f8"/>
<rect x="191.77" y="94.40" width="5.26" height="5.14" fill="#dbe8f2"/>
<rect x="207.56" y="94.40" width="5.26" height="5.14" fill="#e3eef5"/>
<rect x="223.36" y="94.40" width="10.53" height="5.14" fill="#f7fcfd"/>
<rect x="239.16" y="94.40" width="5.26" height="5.14" fill="#dbe8f2"/>
<rect x="44.35" y="89.25" width="5.27" height="5.14" fill="#9ebcda"/>
<rect x="128.59" y="89.25" width="5.27" height="5.14" fill="#99b1d4"/>
<rect x="133.86" y="89.25" width="5.26" height="5.14" fill="#909eca"/>
<rect x="139.12" y="89.25" width="5.26" height="5.14" fill="#9ebcda"/>
<rect x="144.38" y="89.25" width="5.27" height="5.14" fill="#d2e2ee"/>
<rect x="149.65" y="89.25" width="10.53" height="5.14" fill="#b5cce3"/>
<rect x="160.18" y="89.25" width="5.26" height="5.14" fill="#ccddec"/>
<rect x="165.44" y="89.25" width="5.27" height="5.14" fill="#bdd1e5"/>
<rect x="170.71" y="89.25" width="5.26" height="5.14" fill="#dbe8f2"/>
<rect x="175.97" y="89.25" width="5.26" height="5.14" fill="#c2d5e7"/>
<rect x="181.24" y="89.25" width="5.27" height="5.14" fill="#e3eef5"/>
<rect x="186.50" y="89.25" width="5.27" height="5.14" fill="#ebf4f8"/>
<rect x="207.56" y="89.25" width="5.26" height="5.14" fill="#ebf4f8"/>
<rect x="44.35" y="84.11" width="5.27" height="5.14" fill="#9ebcda"/>
<rect x="128.59" y="84.11" width="5.27" height="5.14" fill="#9ab4d6"/>
<rect x="133.86" y="84.11" width="5.26" height="5.14" fill="#94a6ce"/>
<rect x="139.12" y="84.11" width="5.26" height="5.14" fill="#b9cee4"/>
<rect x="144.38" y="84.11" width="5.27" height="5.14" fill="#d2e2ee"/>
<rect x="149.65" y="84.11" width="5.27" height="5.14" fill="#b9cee4"/>
<rect x="154.92" y="84.11" width="5.26" height="5.14" fill="#b5cce3"/>
<rect x="160.18" y="84.11" width="5.26" height="5.14" fill="#d2e2ee"/>
<rect x="170.71" y="84.11" width="5.26" height="5.14" fill="#dbe8f2"/>
<rect x="175.97" y="84.11" width="5.26" height="5.14" fill="#ccddec"/>
<rect x="181.24" y="84.11" width="5.27" height="5.14" fill="#e3eef5"/>
<rect x="186.50" y="84.11" width="5.27" height="5.14" fill="#ebf4f8"/>
<rect x="197.03" y="84.11" width="5.26" height="5.14" fill="#dbe8f2"/>
<rect x="202.30" y="84.11" width="5.27" height="5.14" fill="#f7fcfd"/>
<rect x="212.83" y="84.11" width="5.27" height="5.14" fill="#ebf4f8"/>
<rect x="218.09" y="84.11" width="5.27" height="5.14" fill="#f7fcfd"/>
<rect x="244.42" y="84.11" width="5.27" height="5.14" fill="#ebf4f8"/>
<rect x="44.35" y="78.97" width="5.27" height="5.14" fill="#b9cee4"/>
<rect x="128.59" y="78.97" width="5.27" height="5.14" fill="#9ab4d6"/>
<rect x="133.86" y="78.97" width="5.26" height="5.14" fill="#8f9dc9"/>
<rect x="139.12" y="78.97" width="5.26" height="5.14" fill="#a9c4de"/>
<rect x="144.38" y="78.97" width="5.27" height="5.14" fill="#c6d8e9"/>
<rect x="149.65" y="78.97" width="5.27" height="5.14" fill="#ebf4f8"/>
<rect x="154.92" y="78.97" width="5.26" height="5.14" fill="#e3eef5"/>
<rect x="160.18" y="78.97" width="5.26" height="5.14" fill="#bdd1e5"/>
<rect x="165.44" y="78.97" width="5.27" height="5.14" fill="#ebf4f8"/>
<rect x="170.71" y="78.97" width="5.26" height="5.14" fill="#f7fcfd"/>
<rect x="186.50" y="78.97" width="5.27" height="5.14" fill="#ebf4f8"/>
<rect x="191.77" y="78.97" width="5.26" height="5.14" fill="#f7fcfd"/>
<rect x="197.03" y="78.97" width="5.26" height="5.14" fill="#ccddec"/>
<rect x="218.09" y="78.97" width="5.27" height="5.14" fill="#f7fcfd"/>
<rect x="44.35" y="73.82" width="5.27" height="5.14" fill="#c6d8e9"/>
<rect x="128.59" y="73.82" width="5.27" height="5.14" fill="#99b1d4"/>
<rect x="133.86" y="73.82" width="5.26" height="5.14" fill="#94a6ce"/>
<rect x="139.12" y="73.82" width="5.26" height="5.14" fill="#c2d5e7"/>
<rect x="144.38" y="73.82" width="10.53" height="5.14" fill="#c6d8e9"/>
<rect x="154.92" y="73.82" width="5.26" height="5.14" fill="#bdd1e5"/>
<rect x="160.18" y="73.82" width="5.26" height="5.14" fill="#ebf4f8"/>
<rect x="165.44" y="73.82" width="5.27" height="5.14" fill="#f7fcfd"/>
<rect x="170.71" y="73.82" width="5.26" height="5.14" fill="#d2e2ee"/>
<rect x="175.97" y="73.82" width="5.26" height="5.14" fill="#ebf4f8"/>
<rect x="181.24" y="73.82" width="5.27" height="5.14" fill="#e3eef5"/>
<rect x="186.50" y="73.82" width="5.27" height="5.14" fill="#ebf4f8"/>
<rect x="202.30" y="73.82" width="5.27" height="5.14" fill="#e3eef5"/>
<rect x="218.09" y="73.82" width="5.27" height="5.14" fill="#f7fcfd"/>
<rect x="265.48" y="73.82" width="5.26" height="5.14" fill="#ebf4f8"/>
<rect x="291.81" y="73.82" width="5.27" height="5.14" fill="#f7fcfd"/>
<rect x="44.35" y="68.68" width="5.27" height="5.14" fill="#b1c9e1"/>
<rect x="128.59" y="68.68" width="5.27" height="5.14" fill="#9cb7d7"/>
<rect x="133.86" y="68.68" width="5.26" height="5.14" fill="#99b1d4"/>
<rect x="139.12" y="68.68" width="5.26" height="5.14" fill="#e3eef5"/>
<rect x="144.38" y="68.68" width="10.53" height="5.14" fill="#bdd1e5"/>
<rect x="154.92" y="68.68" width="5.26" height="5.14" fill="#ccddec"/>
<rect x="165.44" y="68.68" width="5.27" height="5.14" fill="#f7fcfd"/>
<rect x="170.71" y="68.68" width="5.26" height="5.14" fill="#ccddec"/>
<rect x="186.50" y="68.68" width="10.53" height="5.14" fill="#f7fcfd"/>
<rect x="202.30" y="68.68" width="10.53" height="5.14" fill="#f7fcfd"/>
<rect x="44.35" y="63.54" width="5.27" height="5.14" fill="#abc5df"/>
<rect x="128.59" y="63.54" width="5.27" height="5.14" fill="#b1c9e1"/>
<rect x="133.86" y="63.54" width="5.26" height="5.14" fill="#98aed3"/>
<rect x="139.12" y="63.54" width="5.26" height="5.14" fill="#c2d5e7"/>
<rect x="144.38" y="63.54" width="5.27" height="5.14" fill="#b5cce3"/>
<rect x="149.65" y="63.54" width="5.27" height="5.14" fill="#e3eef5"/>
<rect x="154.92" y="63.54" width="5.26" height="5.14" fill="#d2e2ee"/>
<rect x="160.18" y="63.54" width="5.26" height="5.14" fill="#dbe8f2"/>
<rect x="170.71" y="63.54" width="5.26" height="5.14" fill="#f7fcfd"/>
<rect x="181.24" y="63.54" width="5.27" height="5.14" fill="#ccddec"/>
<rect x="197.03" y="63.54" width="10.53" height="5.14" fill="#ebf4f8"/>
<rect x="212.83" y="63.54" width="5.27" height="5.14" fill="#f7fcfd"/>
<rect x="218.09" y="63.54" width="5.27" height="5.14" fill="#e3eef5"/>
<rect x="244.42" y="63.54" width="5.27" height="5.14" fill="#f7fcfd"/>
<rect x="44.35" y="58.39" width="5.27" height="5.14" fill="#c6d8e9"/>
<rect x="128.59" y="58.39" width="5.27" height="5.14" fill="#a0bddb"/>
<rect x="133.86" y="58.39" width="5.26" height="5.14" fill="#99b2d5"/>
<rect x="139.12" y="58.39" width="5.26" height="5.14" fill="#d2e2ee"/>
<rect x="149.65" y="58.39" width="5.27" height="5.14" fill="#d2e2ee"/>
<rect x="154.92" y="58.39" width="5.26" height="5.14" fill="#c6d8e9"/>
<rect x="165.44" y="58.39" width="5.27" height="5.14" fill="#ebf4f8"/>
<rect x="175.97" y="58.39" width="5.26" height="5.14" fill="#d2e2ee"/>
<rect x="128.59" y="53.25" width="5.27" height="5.14" fill="#a6c2dd"/>
<rect x="133.86" y="53.25" width="5.26" height="5.14" fill="#9cb7d7"/>
<rect x="139.12" y="53.25" width="5.26" height="5.14" fill="#c6d8e9"/>
<rect x="144.38" y="53.25" width="5.27" height="5.14" fill="#bdd1e5"/>
<rect x="149.65" y="53.25" width="5.27" height="5.14" fill="#ebf4f8"/>
<rect x="154.92" y="53.25" width="5.26" height="5.14" fill="#d2e2ee"/>
<rect x="160.18" y="53.25" width="5.26" height="5.14" fill="#e3eef5"/>
<rect x="165.44" y="53.25" width="5.27" height="5.14" fill="#ccddec"/>
<rect x="170.71" y="53.25" width="5.26" height="5.14" fill="#f7fcfd"/>
<rect x="218.09" y="53.25" width="5.27" height="5.14" fill="#ebf4f8"/>
<rect x="44.35" y="48.11" width="5.27" height="5.14" fill="#dbe8f2"/>
<rect x="128.59" y="48.11" width="5.27" height="5.14" fill="#a6c2dd"/>
<rect x="133.86" y="48.11" width="5.26" height="5.14" fill="#aec7e0"/>
<rect x="139.12" y="48.11" width="5.26" height="5.14" fill="#bdd1e5"/>
<rect x="144.38" y="48.11" width="5.27" height="5.14" fill="#c2d5e7"/>
<rect x="149.65" y="48.11" width="5.27" height="5.14" fill="#ccddec"/>
<rect x="154.92" y="48.11" width="5.26" height="5.14" fill="#f7fcfd"/>
<rect x="165.44" y="48.11" width="10.53" height="5.14" fill="#f7fcfd"/>
<rect x="175.97" y="48.11" width="5.26" height="5.14" fill="#e3eef5"/>
<rect x="186.50" y="48.11" width="5.27" height="5.14" fill="#ebf4f8"/>
<rect x="197.03" y="48.11" width="5.26" height="5.14" fill="#f7fcfd"/>
<rect x="44.35" y="42.96" width="5.27" height="5.14" fill="#f7fcfd"/>
<rect x="128.59" y="42.96" width="5.27" height="5.14" fill="#b1c9e1"/>
<rect x="133.86" y="42.96" width="5.26" height="5.14" fill="#96abd1"/>
<rect x="139.12" y="42.96" width="5.26" height="5.14" fill="#aec7e0"/>
<rect x="144.38" y="42.96" width="5.27" height="5.14" fill="#c6d8e9"/>
<rect x="154.92" y="42.96" width="5.26" height="5.14" fill="#ebf4f8"/>
<rect x="160.18" y="42.96" width="10.53" height="5.14" fill="#f7fcfd"/>
<rect x="181.24" y="42.96" width="5.27" height="5.14" fill="#dbe8f2"/>
<rect x="186.50" y="42.96" width="5.27" height="5.14" fill="#f7fcfd"/>
<rect x="44.35" y="37.82" width="5.27" height="5.14" fill="#bdd1e5"/>
<rect x="128.59" y="37.82" width="10.53" height="5.14" fill="#a6c2dd"/>
<rect x="139.12" y="37.82" width="5.26" height="5.14" fill="#dbe8f2"/>
<rect x="144.38" y="37.82" width="5.27" height="5.14" fill="#ebf4f8"/>
<rect x="165.44" y="37.82" width="5.27" height="5.14" fill="#ebf4f8"/>
<rect x="175.97" y="37.82" width="5.26" height="5.14" fill="#ebf4f8"/>
<rect x="212.83" y="37.82" width="5.27" height="5.14" fill="#e3eef5"/>
<rect x="128.59" y="32.68" width="5.27" height="5.14" fill="#b5cce3"/>
<rect x="133.86" y="32.68" width="5.26" height="5.14" fill="#a9c4de"/>
<rect x="139.12" y="32.68" width="5.26" height="5.14" fill="#b5cce3"/>
<rect x="160.18" y="32.68" width="5.26" height="5.14" fill="#dbe8f2"/>
<rect x="170.71" y="32.68" width="5.26" height="5.14" fill="#f7fcfd"/>
<rect x="186.50" y="32.68" width="5.27" height="5.14" fill="#f7fcfd"/>
<rect x="197.03" y="32.68" width="5.26" height="5.14" fill="#f7fcfd"/>
<rect x="44.35" y="27.54" width="5.27" height="5.14" fill="#e3eef5"/>
<rect x="128.59" y="27.54" width="5.27" height="5.14" fill="#ebf4f8"/>
<rect x="133.86" y="27.54" width="5.26" height="5.14" fill="#ccddec"/>
<rect x="144.38" y="27.54" width="10.53" height="5.14" fill="#e3eef5"/>
<rect x="244.42" y="27.54" width="5.27" height="5.14" fill="#f7fcfd"/>
<rect x="128.59" y="22.39" width="5.27" height="5.14" fill="#d2e2ee"/>
<rect x="133.86" y="22.39" width="5.26" height="5.14" fill="#dbe8f2"/>
<rect x="144.38" y="22.39" width="5.27" height="5.14" fill="#d2e2ee"/>
<rect x="154.92" y="22.39" width="5.26" height="5.14" fill="#ebf4f8"/></g>
<line x1="44.35" x2="307.60" y1="143.20" y2="143.20" stroke="#ff0000" stroke-width="1.3"/><rect x="44.35" y="17.25" width="263.25" height="257.15" fill="none" stroke="#2a2a2a" stroke-width="0.7"/><line x1="44.35" x2="44.35" y1="274.40" y2="276.50" stroke="#2a2a2a" stroke-width="0.65"/><text x="44.35" y="287.50" class="tk" text-anchor="middle">0</text><line x1="102.27" x2="102.27" y1="274.40" y2="276.50" stroke="#2a2a2a" stroke-width="0.65"/><text x="102.27" y="287.50" class="tk" text-anchor="middle">20</text><line x1="160.19" x2="160.19" y1="274.40" y2="276.50" stroke="#2a2a2a" stroke-width="0.65"/><text x="160.19" y="287.50" class="tk" text-anchor="middle">40</text><line x1="218.11" x2="218.11" y1="274.40" y2="276.50" stroke="#2a2a2a" stroke-width="0.65"/><text x="218.11" y="287.50" class="tk" text-anchor="middle">60</text><line x1="276.03" x2="276.03" y1="274.40" y2="276.50" stroke="#2a2a2a" stroke-width="0.65"/><text x="276.03" y="287.50" class="tk" text-anchor="middle">80</text><line x1="42.25" x2="44.35" y1="274.40" y2="274.40" stroke="#2a2a2a" stroke-width="0.65"/><text x="40.35" y="278.40" class="tk" text-anchor="end">0</text><line x1="42.25" x2="44.35" y1="221.92" y2="221.92" stroke="#2a2a2a" stroke-width="0.65"/><text x="40.35" y="225.92" class="tk" text-anchor="end">20</text><line x1="42.25" x2="44.35" y1="169.44" y2="169.44" stroke="#2a2a2a" stroke-width="0.65"/><text x="40.35" y="173.44" class="tk" text-anchor="end">40</text><line x1="42.25" x2="44.35" y1="116.96" y2="116.96" stroke="#2a2a2a" stroke-width="0.65"/><text x="40.35" y="120.96" class="tk" text-anchor="end">60</text><line x1="42.25" x2="44.35" y1="64.48" y2="64.48" stroke="#2a2a2a" stroke-width="0.65"/><text x="40.35" y="68.48" class="tk" text-anchor="end">80</text><text x="175.98" y="300.90" class="lb" text-anchor="middle">Confidence score in % (Object detector)</text><text transform="translate(21.70 145.38) rotate(-90)" class="lb" text-anchor="middle">Confidence score in % (Random Forest)</text>
<text x="63.7" y="55.4" class="pc">27.4%</text>
<text x="240.0" y="246.8" class="pc">72.6%</text>
<defs><linearGradient id="ga" x1="0" y1="0" x2="0" y2="1"><stop offset="0.0000" stop-color="#4d004b"/><stop offset="0.0312" stop-color="#580356"/><stop offset="0.0625" stop-color="#650762"/><stop offset="0.0938" stop-color="#730b6e"/><stop offset="0.1250" stop-color="#800f7b"/><stop offset="0.1562" stop-color="#831a83"/><stop offset="0.1875" stop-color="#84278c"/><stop offset="0.2188" stop-color="#863394"/><stop offset="0.2500" stop-color="#88409c"/><stop offset="0.2812" stop-color="#894ba2"/><stop offset="0.3125" stop-color="#8a55a7"/><stop offset="0.3438" stop-color="#8b60ac"/><stop offset="0.3750" stop-color="#8c6ab1"/><stop offset="0.4062" stop-color="#8c75b6"/><stop offset="0.4375" stop-color="#8c80bb"/><stop offset="0.4688" stop-color="#8c8bc0"/><stop offset="0.5000" stop-color="#8c95c6"/><stop offset="0.5312" stop-color="#909fcb"/><stop offset="0.5625" stop-color="#95a8d0"/><stop offset="0.5938" stop-color="#99b2d5"/><stop offset="0.6250" stop-color="#9ebcda"/><stop offset="0.6562" stop-color="#a6c2dd"/><stop offset="0.6875" stop-color="#aec7e0"/><stop offset="0.7188" stop-color="#b6cde3"/><stop offset="0.7500" stop-color="#bfd3e6"/><stop offset="0.7812" stop-color="#c7d9e9"/><stop offset="0.8125" stop-color="#cfdfed"/><stop offset="0.8438" stop-color="#d8e6f0"/><stop offset="0.8750" stop-color="#e0ecf4"/><stop offset="0.9062" stop-color="#e6f0f6"/><stop offset="0.9375" stop-color="#ebf4f8"/><stop offset="0.9688" stop-color="#f1f8fb"/><stop offset="1.0000" stop-color="#f7fcfd"/></linearGradient></defs><rect x="324.25" y="17.25" width="13.05" height="257.15" fill="url(#ga)" stroke="#222" stroke-width="0.65"/><line x1="337.30" x2="338.40" y1="274.40" y2="274.40" stroke="#333" stroke-width="0.5"/><line x1="337.30" x2="338.40" y1="257.62" y2="257.62" stroke="#333" stroke-width="0.5"/><line x1="337.30" x2="338.40" y1="245.72" y2="245.72" stroke="#333" stroke-width="0.5"/><line x1="337.30" x2="338.40" y1="236.49" y2="236.49" stroke="#333" stroke-width="0.5"/><line x1="337.30" x2="338.40" y1="228.94" y2="228.94" stroke="#333" stroke-width="0.5"/><line x1="337.30" x2="338.40" y1="222.56" y2="222.56" stroke="#333" stroke-width="0.5"/><line x1="337.30" x2="338.40" y1="217.04" y2="217.04" stroke="#333" stroke-width="0.5"/><line x1="337.30" x2="338.40" y1="212.16" y2="212.16" stroke="#333" stroke-width="0.5"/><line x1="337.30" x2="338.40" y1="179.12" y2="179.12" stroke="#333" stroke-width="0.5"/><line x1="337.30" x2="338.40" y1="162.35" y2="162.35" stroke="#333" stroke-width="0.5"/><line x1="337.30" x2="338.40" y1="150.44" y2="150.44" stroke="#333" stroke-width="0.5"/><line x1="337.30" x2="338.40" y1="141.21" y2="141.21" stroke="#333" stroke-width="0.5"/><line x1="337.30" x2="338.40" y1="133.66" y2="133.66" stroke="#333" stroke-width="0.5"/><line x1="337.30" x2="338.40" y1="127.29" y2="127.29" stroke="#333" stroke-width="0.5"/><line x1="337.30" x2="338.40" y1="121.76" y2="121.76" stroke="#333" stroke-width="0.5"/><line x1="337.30" x2="338.40" y1="116.89" y2="116.89" stroke="#333" stroke-width="0.5"/><line x1="337.30" x2="338.40" y1="83.85" y2="83.85" stroke="#333" stroke-width="0.5"/><line x1="337.30" x2="338.40" y1="67.07" y2="67.07" stroke="#333" stroke-width="0.5"/><line x1="337.30" x2="338.40" y1="55.16" y2="55.16" stroke="#333" stroke-width="0.5"/><line x1="337.30" x2="338.40" y1="45.93" y2="45.93" stroke="#333" stroke-width="0.5"/><line x1="337.30" x2="338.40" y1="38.39" y2="38.39" stroke="#333" stroke-width="0.5"/><line x1="337.30" x2="338.40" y1="32.01" y2="32.01" stroke="#333" stroke-width="0.5"/><line x1="337.30" x2="338.40" y1="26.48" y2="26.48" stroke="#333" stroke-width="0.5"/><line x1="337.30" x2="338.40" y1="21.61" y2="21.61" stroke="#333" stroke-width="0.5"/><line x1="337.30" x2="339.30" y1="207.80" y2="207.80" stroke="#222" stroke-width="0.65"/><text x="341.80" y="211.40" class="cb">10<tspan dy="-4.2" dx="0.1" font-size="6.6">1</tspan></text><line x1="337.30" x2="339.30" y1="112.53" y2="112.53" stroke="#222" stroke-width="0.65"/><text x="341.80" y="116.13" class="cb">10<tspan dy="-4.2" dx="0.1" font-size="6.6">2</tspan></text><line x1="337.30" x2="339.30" y1="17.25" y2="17.25" stroke="#222" stroke-width="0.65"/><text x="341.80" y="20.85" class="cb">10<tspan dy="-4.2" dx="0.1" font-size="6.6">3</tspan></text>
<g id="hb" shape-rendering="crispEdges" filter="url(#bl)" clip-path="url(#cbp)"><rect x="506.65" y="259.02" width="5.27" height="5.14" fill="#f7fcfd"/>
<rect x="517.19" y="259.02" width="5.27" height="5.14" fill="#ebf4f8"/>
<rect x="522.46" y="259.02" width="5.27" height="5.14" fill="#f7fcfd"/>
<rect x="506.65" y="253.87" width="5.27" height="5.14" fill="#dbe8f2"/>
<rect x="517.19" y="253.87" width="5.27" height="5.14" fill="#f7fcfd"/>
<rect x="527.74" y="253.87" width="5.27" height="5.14" fill="#f7fcfd"/>
<rect x="538.28" y="253.87" width="5.27" height="5.14" fill="#ebf4f8"/>
<rect x="543.56" y="253.87" width="5.27" height="5.14" fill="#f7fcfd"/>
<rect x="506.65" y="248.73" width="10.55" height="5.14" fill="#dbe8f2"/>
<rect x="522.46" y="248.73" width="5.27" height="5.14" fill="#e3eef5"/>
<rect x="527.74" y="248.73" width="10.55" height="5.14" fill="#ebf4f8"/>
<rect x="543.56" y="248.73" width="5.27" height="5.14" fill="#dbe8f2"/>
<rect x="548.83" y="248.73" width="5.27" height="5.14" fill="#f7fcfd"/>
<rect x="506.65" y="243.59" width="5.27" height="5.14" fill="#e3eef5"/>
<rect x="511.92" y="243.59" width="5.27" height="5.14" fill="#f7fcfd"/>
<rect x="517.19" y="243.59" width="5.27" height="5.14" fill="#ebf4f8"/>
<rect x="522.46" y="243.59" width="5.27" height="5.14" fill="#c7d9e9"/>
<rect x="527.74" y="243.59" width="5.27" height="5.14" fill="#f7fcfd"/>
<rect x="533.01" y="243.59" width="5.27" height="5.14" fill="#d3e2ef"/>
<rect x="538.28" y="243.59" width="5.27" height="5.14" fill="#dbe8f2"/>
<rect x="564.65" y="243.59" width="5.27" height="5.14" fill="#ebf4f8"/>
<rect x="506.65" y="238.44" width="5.27" height="5.14" fill="#d3e2ef"/>
<rect x="511.92" y="238.44" width="5.27" height="5.14" fill="#f7fcfd"/>
<rect x="517.19" y="238.44" width="5.27" height="5.14" fill="#cddeec"/>
<rect x="522.46" y="238.44" width="5.27" height="5.14" fill="#dbe8f2"/>
<rect x="527.74" y="238.44" width="5.27" height="5.14" fill="#bacfe4"/>
<rect x="538.28" y="238.44" width="5.27" height="5.14" fill="#ebf4f8"/>
<rect x="548.83" y="238.44" width="5.27" height="5.14" fill="#ebf4f8"/>
<rect x="564.65" y="238.44" width="5.27" height="5.14" fill="#e3eef5"/>
<rect x="569.92" y="238.44" width="5.27" height="5.14" fill="#f7fcfd"/>
<rect x="506.65" y="233.30" width="5.27" height="5.14" fill="#ebf4f8"/>
<rect x="511.92" y="233.30" width="5.27" height="5.14" fill="#e3eef5"/>
<rect x="517.19" y="233.30" width="5.27" height="5.14" fill="#f7fcfd"/>
<rect x="522.46" y="233.30" width="10.55" height="5.14" fill="#cddeec"/>
<rect x="533.01" y="233.30" width="5.27" height="5.14" fill="#bacfe4"/>
<rect x="543.56" y="233.30" width="5.27" height="5.14" fill="#f7fcfd"/>
<rect x="548.83" y="233.30" width="5.27" height="5.14" fill="#d3e2ef"/>
<rect x="554.10" y="233.30" width="5.27" height="5.14" fill="#ebf4f8"/>
<rect x="506.65" y="228.15" width="5.27" height="5.14" fill="#bacfe4"/>
<rect x="511.92" y="228.15" width="5.27" height="5.14" fill="#cddeec"/>
<rect x="517.19" y="228.15" width="5.27" height="5.14" fill="#e3eef5"/>
<rect x="522.46" y="228.15" width="5.27" height="5.14" fill="#bed2e6"/>
<rect x="527.74" y="228.15" width="5.27" height="5.14" fill="#c2d5e7"/>
<rect x="533.01" y="228.15" width="5.27" height="5.14" fill="#ebf4f8"/>
<rect x="538.28" y="228.15" width="5.27" height="5.14" fill="#f7fcfd"/>
<rect x="543.56" y="228.15" width="5.27" height="5.14" fill="#e3eef5"/>
<rect x="548.83" y="228.15" width="5.27" height="5.14" fill="#cddeec"/>
<rect x="506.65" y="223.01" width="10.55" height="5.14" fill="#c2d5e7"/>
<rect x="517.19" y="223.01" width="5.27" height="5.14" fill="#dbe8f2"/>
<rect x="522.46" y="223.01" width="5.27" height="5.14" fill="#bacfe4"/>
<rect x="527.74" y="223.01" width="5.27" height="5.14" fill="#c7d9e9"/>
<rect x="533.01" y="223.01" width="5.27" height="5.14" fill="#d3e2ef"/>
<rect x="538.28" y="223.01" width="5.27" height="5.14" fill="#cddeec"/>
<rect x="543.56" y="223.01" width="5.27" height="5.14" fill="#bed2e6"/>
<rect x="548.83" y="223.01" width="5.27" height="5.14" fill="#cddeec"/>
<rect x="554.10" y="223.01" width="5.27" height="5.14" fill="#f7fcfd"/>
<rect x="559.38" y="223.01" width="5.27" height="5.14" fill="#e3eef5"/>
<rect x="564.65" y="223.01" width="10.55" height="5.14" fill="#f7fcfd"/>
<rect x="580.47" y="223.01" width="5.27" height="5.14" fill="#f7fcfd"/>
<rect x="585.74" y="223.01" width="5.27" height="5.14" fill="#ebf4f8"/>
<rect x="601.56" y="223.01" width="5.27" height="5.14" fill="#f7fcfd"/>
<rect x="506.65" y="217.87" width="5.27" height="5.14" fill="#bed2e6"/>
<rect x="511.92" y="217.87" width="5.27" height="5.14" fill="#a5c1dc"/>
<rect x="517.19" y="217.87" width="5.27" height="5.14" fill="#e3eef5"/>
<rect x="522.46" y="217.87" width="5.27" height="5.14" fill="#c7d9e9"/>
<rect x="527.74" y="217.87" width="5.27" height="5.14" fill="#d3e2ef"/>
<rect x="533.01" y="217.87" width="5.27" height="5.14" fill="#aac4de"/>
<rect x="538.28" y="217.87" width="5.27" height="5.14" fill="#dbe8f2"/>
<rect x="543.56" y="217.87" width="5.27" height="5.14" fill="#e3eef5"/>
<rect x="548.83" y="217.87" width="5.27" height="5.14" fill="#dbe8f2"/>
<rect x="554.10" y="217.87" width="5.27" height="5.14" fill="#ebf4f8"/>
<rect x="559.38" y="217.87" width="10.55" height="5.14" fill="#f7fcfd"/>
<rect x="506.65" y="212.72" width="5.27" height="5.14" fill="#e3eef5"/>
<rect x="511.92" y="212.72" width="5.27" height="5.14" fill="#bed2e6"/>
<rect x="517.19" y="212.72" width="5.27" height="5.14" fill="#cddeec"/>
<rect x="522.46" y="212.72" width="5.27" height="5.14" fill="#bed2e6"/>
<rect x="527.74" y="212.72" width="5.27" height="5.14" fill="#cddeec"/>
<rect x="533.01" y="212.72" width="5.27" height="5.14" fill="#c2d5e7"/>
<rect x="538.28" y="212.72" width="10.55" height="5.14" fill="#e3eef5"/>
<rect x="548.83" y="212.72" width="5.27" height="5.14" fill="#c2d5e7"/>
<rect x="554.10" y="212.72" width="5.27" height="5.14" fill="#dbe8f2"/>
<rect x="564.65" y="212.72" width="5.27" height="5.14" fill="#f7fcfd"/>
<rect x="569.92" y="212.72" width="5.27" height="5.14" fill="#ebf4f8"/>
<rect x="575.19" y="212.72" width="5.27" height="5.14" fill="#e3eef5"/>
<rect x="585.74" y="212.72" width="5.27" height="5.14" fill="#ebf4f8"/>
<rect x="591.01" y="212.72" width="5.27" height="5.14" fill="#f7fcfd"/>
<rect x="506.65" y="207.58" width="5.27" height="5.14" fill="#a7c2dd"/>
<rect x="511.92" y="207.58" width="5.27" height="5.14" fill="#9dbad9"/>
<rect x="517.19" y="207.58" width="5.27" height="5.14" fill="#c7d9e9"/>
<rect x="527.74" y="207.58" width="5.27" height="5.14" fill="#b2cae1"/>
<rect x="533.01" y="207.58" width="5.27" height="5.14" fill="#c2d5e7"/>
<rect x="538.28" y="207.58" width="5.27" height="5.14" fill="#f7fcfd"/>
<rect x="543.56" y="207.58" width="5.27" height="5.14" fill="#cddeec"/>
<rect x="548.83" y="207.58" width="5.27" height="5.14" fill="#c2d5e7"/>
<rect x="554.10" y="207.58" width="5.27" height="5.14" fill="#e3eef5"/>
<rect x="559.38" y="207.58" width="10.55" height="5.14" fill="#d3e2ef"/>
<rect x="569.92" y="207.58" width="5.27" height="5.14" fill="#cddeec"/>
<rect x="580.47" y="207.58" width="5.27" height="5.14" fill="#d3e2ef"/>
<rect x="601.56" y="207.58" width="5.27" height="5.14" fill="#f7fcfd"/>
<rect x="506.65" y="202.43" width="5.27" height="5.14" fill="#afc8e0"/>
<rect x="511.92" y="202.43" width="5.27" height="5.14" fill="#bacfe4"/>
<rect x="517.19" y="202.43" width="5.27" height="5.14" fill="#afc8e0"/>
<rect x="522.46" y="202.43" width="5.27" height="5.14" fill="#b6cde3"/>
<rect x="527.74" y="202.43" width="5.27" height="5.14" fill="#9bb6d7"/>
<rect x="533.01" y="202.43" width="5.27" height="5.14" fill="#afc8e0"/>
<rect x="538.28" y="202.43" width="10.55" height="5.14" fill="#cddeec"/>
<rect x="548.83" y="202.43" width="5.27" height="5.14" fill="#b2cae1"/>
<rect x="554.10" y="202.43" width="15.82" height="5.14" fill="#c7d9e9"/>
<rect x="569.92" y="202.43" width="5.27" height="5.14" fill="#dbe8f2"/>
<rect x="575.19" y="202.43" width="10.55" height="5.14" fill="#e3eef5"/>
<rect x="585.74" y="202.43" width="10.55" height="5.14" fill="#ebf4f8"/>
<rect x="601.56" y="202.43" width="5.27" height="5.14" fill="#cddeec"/>
<rect x="506.65" y="197.29" width="5.27" height="5.14" fill="#a7c2dd"/>
<rect x="511.92" y="197.29" width="5.27" height="5.14" fill="#bed2e6"/>
<rect x="517.19" y="197.29" width="5.27" height="5.14" fill="#adc7e0"/>
<rect x="522.46" y="197.29" width="5.27" height="5.14" fill="#b6cde3"/>
<rect x="527.74" y="197.29" width="5.27" height="5.14" fill="#a7c2dd"/>
<rect x="533.01" y="197.29" width="5.27" height="5.14" fill="#adc7e0"/>
<rect x="538.28" y="197.29" width="5.27" height="5.14" fill="#d3e2ef"/>
<rect x="543.56" y="197.29" width="10.55" height="5.14" fill="#afc8e0"/>
<rect x="554.10" y="197.29" width="5.27" height="5.14" fill="#a5c1dc"/>
<rect x="559.38" y="197.29" width="5.27" height="5.14" fill="#bacfe4"/>
<rect x="564.65" y="197.29" width="5.27" height="5.14" fill="#d3e2ef"/>
<rect x="569.92" y="197.29" width="5.27" height="5.14" fill="#c7d9e9"/>
<rect x="575.19" y="197.29" width="5.27" height="5.14" fill="#f7fcfd"/>
<rect x="580.47" y="197.29" width="5.27" height="5.14" fill="#cddeec"/>
<rect x="585.74" y="197.29" width="5.27" height="5.14" fill="#f7fcfd"/>
<rect x="591.01" y="197.29" width="5.27" height="5.14" fill="#ebf4f8"/>
<rect x="596.29" y="197.29" width="5.27" height="5.14" fill="#f7fcfd"/>
<rect x="612.11" y="197.29" width="5.27" height="5.14" fill="#ebf4f8"/>
<rect x="506.65" y="192.15" width="5.27" height="5.14" fill="#b2cae1"/>
<rect x="511.92" y="192.15" width="5.27" height="5.14" fill="#afc8e0"/>
<rect x="517.19" y="192.15" width="5.27" height="5.14" fill="#bacfe4"/>
<rect x="522.46" y="192.15" width="5.27" height="5.14" fill="#a7c2dd"/>
<rect x="527.74" y="192.15" width="5.27" height="5.14" fill="#a3bfdc"/>
<rect x="533.01" y="192.15" width="10.55" height="5.14" fill="#c2d5e7"/>
<rect x="543.56" y="192.15" width="5.27" height="5.14" fill="#d3e2ef"/>
<rect x="548.83" y="192.15" width="5.27" height="5.14" fill="#b2cae1"/>
<rect x="554.10" y="192.15" width="5.27" height="5.14" fill="#c2d5e7"/>
<rect x="559.38" y="192.15" width="5.27" height="5.14" fill="#b2cae1"/>
<rect x="564.65" y="192.15" width="5.27" height="5.14" fill="#adc7e0"/>
<rect x="569.92" y="192.15" width="5.27" height="5.14" fill="#c7d9e9"/>
<rect x="575.19" y="192.15" width="5.27" height="5.14" fill="#dbe8f2"/>
<rect x="580.47" y="192.15" width="5.27" height="5.14" fill="#adc7e0"/>
<rect x="585.74" y="192.15" width="10.55" height="5.14" fill="#ebf4f8"/>
<rect x="596.29" y="192.15" width="5.27" height="5.14" fill="#cddeec"/>
<rect x="606.83" y="192.15" width="5.27" height="5.14" fill="#f7fcfd"/>
<rect x="617.38" y="192.15" width="5.27" height="5.14" fill="#f7fcfd"/>
<rect x="633.20" y="192.15" width="5.27" height="5.14" fill="#ebf4f8"/>
<rect x="506.65" y="187.00" width="5.27" height="5.14" fill="#a3bfdc"/>
<rect x="511.92" y="187.00" width="5.27" height="5.14" fill="#b6cde3"/>
<rect x="517.19" y="187.00" width="5.27" height="5.14" fill="#d3e2ef"/>
<rect x="522.46" y="187.00" width="5.27" height="5.14" fill="#adc7e0"/>
<rect x="527.74" y="187.00" width="5.27" height="5.14" fill="#a1bedb"/>
<rect x="533.01" y="187.00" width="5.27" height="5.14" fill="#aac4de"/>
<rect x="538.28" y="187.00" width="5.27" height="5.14" fill="#a7c2dd"/>
<rect x="543.56" y="187.00" width="5.27" height="5.14" fill="#bacfe4"/>
<rect x="548.83" y="187.00" width="5.27" height="5.14" fill="#b2cae1"/>
<rect x="554.10" y="187.00" width="5.27" height="5.14" fill="#b6cde3"/>
<rect x="559.38" y="187.00" width="5.27" height="5.14" fill="#9dbad9"/>
<rect x="564.65" y="187.00" width="10.55" height="5.14" fill="#d3e2ef"/>
<rect x="575.19" y="187.00" width="10.55" height="5.14" fill="#dbe8f2"/>
<rect x="585.74" y="187.00" width="5.27" height="5.14" fill="#cddeec"/>
<rect x="591.01" y="187.00" width="5.27" height="5.14" fill="#d3e2ef"/>
<rect x="596.29" y="187.00" width="5.27" height="5.14" fill="#ebf4f8"/>
<rect x="601.56" y="187.00" width="5.27" height="5.14" fill="#dbe8f2"/>
<rect x="606.83" y="187.00" width="5.27" height="5.14" fill="#ebf4f8"/>
<rect x="612.11" y="187.00" width="5.27" height="5.14" fill="#f7fcfd"/>
<rect x="649.02" y="187.00" width="5.27" height="5.14" fill="#f7fcfd"/>
<rect x="506.65" y="181.86" width="5.27" height="5.14" fill="#afc8e0"/>
<rect x="511.92" y="181.86" width="5.27" height="5.14" fill="#9fbcda"/>
<rect x="517.19" y="181.86" width="5.27" height="5.14" fill="#cddeec"/>
<rect x="522.46" y="181.86" width="5.27" height="5.14" fill="#afc8e0"/>
<rect x="527.74" y="181.86" width="5.27" height="5.14" fill="#a7c2dd"/>
<rect x="533.01" y="181.86" width="5.27" height="5.14" fill="#b6cde3"/>
<rect x="538.28" y="181.86" width="5.27" height="5.14" fill="#cddeec"/>
<rect x="543.56" y="181.86" width="5.27" height="5.14" fill="#b6cde3"/>
<rect x="548.83" y="181.86" width="5.27" height="5.14" fill="#c7d9e9"/>
<rect x="554.10" y="181.86" width="5.27" height="5.14" fill="#c2d5e7"/>
<rect x="559.38" y="181.86" width="5.27" height="5.14" fill="#bacfe4"/>
<rect x="564.65" y="181.86" width="5.27" height="5.14" fill="#b6cde3"/>
<rect x="569.92" y="181.86" width="5.27" height="5.14" fill="#cddeec"/>
<rect x="575.19" y="181.86" width="5.27" height="5.14" fill="#ebf4f8"/>
<rect x="580.47" y="181.86" width="5.27" height="5.14" fill="#d3e2ef"/>
<rect x="585.74" y="181.86" width="10.55" height="5.14" fill="#bacfe4"/>
<rect x="596.29" y="181.86" width="5.27" height="5.14" fill="#dbe8f2"/>
<rect x="601.56" y="181.86" width="5.27" height="5.14" fill="#f7fcfd"/>
<rect x="606.83" y="181.86" width="5.27" height="5.14" fill="#bacfe4"/>
<rect x="612.11" y="181.86" width="5.27" height="5.14" fill="#d3e2ef"/>
<rect x="617.38" y="181.86" width="5.27" height="5.14" fill="#ebf4f8"/>
<rect x="627.92" y="181.86" width="5.27" height="5.14" fill="#dbe8f2"/>
<rect x="506.65" y="176.71" width="5.27" height="5.14" fill="#adc7e0"/>
<rect x="511.92" y="176.71" width="5.27" height="5.14" fill="#a5c1dc"/>
<rect x="517.19" y="176.71" width="5.27" height="5.14" fill="#a1bedb"/>
<rect x="522.46" y="176.71" width="5.27" height="5.14" fill="#c7d9e9"/>
<rect x="527.74" y="176.71" width="5.27" height="5.14" fill="#e3eef5"/>
<rect x="533.01" y="176.71" width="5.27" height="5.14" fill="#c7d9e9"/>
<rect x="538.28" y="176.71" width="5.27" height="5.14" fill="#bacfe4"/>
<rect x="543.56" y="176.71" width="5.27" height="5.14" fill="#aac4de"/>
<rect x="548.83" y="176.71" width="5.27" height="5.14" fill="#afc8e0"/>
<rect x="554.10" y="176.71" width="5.27" height="5.14" fill="#aac4de"/>
<rect x="559.38" y="176.71" width="5.27" height="5.14" fill="#adc7e0"/>
<rect x="564.65" y="176.71" width="5.27" height="5.14" fill="#b2cae1"/>
<rect x="569.92" y="176.71" width="5.27" height="5.14" fill="#dbe8f2"/>
<rect x="575.19" y="176.71" width="10.55" height="5.14" fill="#d3e2ef"/>
<rect x="585.74" y="176.71" width="5.27" height="5.14" fill="#b2cae1"/>
<rect x="591.01" y="176.71" width="5.27" height="5.14" fill="#aac4de"/>
<rect x="596.29" y="176.71" width="5.27" height="5.14" fill="#f7fcfd"/>
<rect x="601.56" y="176.71" width="5.27" height="5.14" fill="#c7d9e9"/>
<rect x="612.11" y="176.71" width="10.55" height="5.14" fill="#dbe8f2"/>
<rect x="622.65" y="176.71" width="5.27" height="5.14" fill="#f7fcfd"/>
<rect x="627.92" y="176.71" width="5.27" height="5.14" fill="#d3e2ef"/>
<rect x="506.65" y="171.57" width="5.27" height="5.14" fill="#9dbad9"/>
<rect x="511.92" y="171.57" width="5.27" height="5.14" fill="#b6cde3"/>
<rect x="517.19" y="171.57" width="5.27" height="5.14" fill="#adc7e0"/>
<rect x="522.46" y="171.57" width="5.27" height="5.14" fill="#bacfe4"/>
<rect x="527.74" y="171.57" width="5.27" height="5.14" fill="#b2cae1"/>
<rect x="533.01" y="171.57" width="5.27" height="5.14" fill="#afc8e0"/>
<rect x="538.28" y="171.57" width="5.27" height="5.14" fill="#adc7e0"/>
<rect x="543.56" y="171.57" width="5.27" height="5.14" fill="#c2d5e7"/>
<rect x="548.83" y="171.57" width="5.27" height="5.14" fill="#aac4de"/>
<rect x="554.10" y="171.57" width="5.27" height="5.14" fill="#c2d5e7"/>
<rect x="559.38" y="171.57" width="5.27" height="5.14" fill="#bacfe4"/>
<rect x="564.65" y="171.57" width="5.27" height="5.14" fill="#afc8e0"/>
<rect x="569.92" y="171.57" width="5.27" height="5.14" fill="#c2d5e7"/>
<rect x="575.19" y="171.57" width="5.27" height="5.14" fill="#a5c1dc"/>
<rect x="580.47" y="171.57" width="5.27" height="5.14" fill="#a3bfdc"/>
<rect x="585.74" y="171.57" width="5.27" height="5.14" fill="#b6cde3"/>
<rect x="591.01" y="171.57" width="5.27" height="5.14" fill="#b2cae1"/>
<rect x="596.29" y="171.57" width="5.27" height="5.14" fill="#c7d9e9"/>
<rect x="601.56" y="171.57" width="5.27" height="5.14" fill="#d3e2ef"/>
<rect x="606.83" y="171.57" width="5.27" height="5.14" fill="#ebf4f8"/>
<rect x="612.11" y="171.57" width="5.27" height="5.14" fill="#e3eef5"/>
<rect x="617.38" y="171.57" width="5.27" height="5.14" fill="#f7fcfd"/>
<rect x="633.20" y="171.57" width="5.27" height="5.14" fill="#cddeec"/>
<rect x="506.65" y="166.43" width="5.27" height="5.14" fill="#aac4de"/>
<rect x="511.92" y="166.43" width="5.27" height="5.14" fill="#b2cae1"/>
<rect x="517.19" y="166.43" width="5.27" height="5.14" fill="#a3bfdc"/>
<rect x="522.46" y="166.43" width="5.27" height="5.14" fill="#b6cde3"/>
<rect x="527.74" y="166.43" width="5.27" height="5.14" fill="#9fbcda"/>
<rect x="533.01" y="166.43" width="5.27" height="5.14" fill="#b6cde3"/>
<rect x="538.28" y="166.43" width="5.27" height="5.14" fill="#bed2e6"/>
<rect x="543.56" y="166.43" width="15.82" height="5.14" fill="#b6cde3"/>
<rect x="559.38" y="166.43" width="5.27" height="5.14" fill="#c7d9e9"/>
<rect x="564.65" y="166.43" width="5.27" height="5.14" fill="#a3bfdc"/>
<rect x="569.92" y="166.43" width="5.27" height="5.14" fill="#aac4de"/>
<rect x="575.19" y="166.43" width="5.27" height="5.14" fill="#b6cde3"/>
<rect x="580.47" y="166.43" width="5.27" height="5.14" fill="#c2d5e7"/>
<rect x="585.74" y="166.43" width="5.27" height="5.14" fill="#dbe8f2"/>
<rect x="591.01" y="166.43" width="5.27" height="5.14" fill="#adc7e0"/>
<rect x="596.29" y="166.43" width="5.27" height="5.14" fill="#c7d9e9"/>
<rect x="601.56" y="166.43" width="5.27" height="5.14" fill="#c2d5e7"/>
<rect x="606.83" y="166.43" width="5.27" height="5.14" fill="#cddeec"/>
<rect x="612.11" y="166.43" width="5.27" height="5.14" fill="#dbe8f2"/>
<rect x="617.38" y="166.43" width="5.27" height="5.14" fill="#ebf4f8"/>
<rect x="622.65" y="166.43" width="5.27" height="5.14" fill="#f7fcfd"/>
<rect x="638.47" y="166.43" width="5.27" height="5.14" fill="#dbe8f2"/>
<rect x="643.74" y="166.43" width="5.27" height="5.14" fill="#f7fcfd"/>
<rect x="506.65" y="161.28" width="5.27" height="5.14" fill="#aac4de"/>
<rect x="511.92" y="161.28" width="5.27" height="5.14" fill="#bacfe4"/>
<rect x="517.19" y="161.28" width="5.27" height="5.14" fill="#aac4de"/>
<rect x="522.46" y="161.28" width="5.27" height="5.14" fill="#a1bedb"/>
<rect x="527.74" y="161.28" width="5.27" height="5.14" fill="#cddeec"/>
<rect x="533.01" y="161.28" width="5.27" height="5.14" fill="#a7c2dd"/>
<rect x="538.28" y="161.28" width="5.27" height="5.14" fill="#bacfe4"/>
<rect x="543.56" y="161.28" width="5.27" height="5.14" fill="#9dbad9"/>
<rect x="548.83" y="161.28" width="5.27" height="5.14" fill="#adc7e0"/>
<rect x="554.10" y="161.28" width="5.27" height="5.14" fill="#9dbad9"/>
<rect x="559.38" y="161.28" width="5.27" height="5.14" fill="#a1bedb"/>
<rect x="564.65" y="161.28" width="5.27" height="5.14" fill="#aac4de"/>
<rect x="569.92" y="161.28" width="5.27" height="5.14" fill="#d3e2ef"/>
<rect x="575.19" y="161.28" width="5.27" height="5.14" fill="#b2cae1"/>
<rect x="580.47" y="161.28" width="5.27" height="5.14" fill="#b6cde3"/>
<rect x="585.74" y="161.28" width="5.27" height="5.14" fill="#e3eef5"/>
<rect x="591.01" y="161.28" width="5.27" height="5.14" fill="#c7d9e9"/>
<rect x="596.29" y="161.28" width="5.27" height="5.14" fill="#dbe8f2"/>
<rect x="601.56" y="161.28" width="5.27" height="5.14" fill="#f7fcfd"/>
<rect x="606.83" y="161.28" width="5.27" height="5.14" fill="#c2d5e7"/>
<rect x="612.11" y="161.28" width="5.27" height="5.14" fill="#dbe8f2"/>
<rect x="617.38" y="161.28" width="5.27" height="5.14" fill="#ebf4f8"/>
<rect x="622.65" y="161.28" width="10.55" height="5.14" fill="#e3eef5"/>
<rect x="633.20" y="161.28" width="5.27" height="5.14" fill="#f7fcfd"/>
<rect x="649.02" y="161.28" width="5.27" height="5.14" fill="#ebf4f8"/>
<rect x="659.56" y="161.28" width="5.27" height="5.14" fill="#ebf4f8"/>
<rect x="506.65" y="156.14" width="5.27" height="5.14" fill="#a7c2dd"/>
<rect x="511.92" y="156.14" width="5.27" height="5.14" fill="#b2cae1"/>
<rect x="517.19" y="156.14" width="5.27" height="5.14" fill="#adc7e0"/>
<rect x="522.46" y="156.14" width="5.27" height="5.14" fill="#b2cae1"/>
<rect x="527.74" y="156.14" width="5.27" height="5.14" fill="#a1bedb"/>
<rect x="533.01" y="156.14" width="5.27" height="5.14" fill="#adc7e0"/>
<rect x="538.28" y="156.14" width="5.27" height="5.14" fill="#afc8e0"/>
<rect x="543.56" y="156.14" width="5.27" height="5.14" fill="#9dbad9"/>
<rect x="548.83" y="156.14" width="5.27" height="5.14" fill="#aac4de"/>
<rect x="554.10" y="156.14" width="5.27" height="5.14" fill="#9fbcda"/>
<rect x="559.38" y="156.14" width="5.27" height="5.14" fill="#aac4de"/>
<rect x="564.65" y="156.14" width="5.27" height="5.14" fill="#9cb8d8"/>
<rect x="569.92" y="156.14" width="5.27" height="5.14" fill="#b6cde3"/>
<rect x="575.19" y="156.14" width="5.27" height="5.14" fill="#a3bfdc"/>
<rect x="580.47" y="156.14" width="5.27" height="5.14" fill="#c2d5e7"/>
<rect x="585.74" y="156.14" width="5.27" height="5.14" fill="#b2cae1"/>
<rect x="591.01" y="156.14" width="5.27" height="5.14" fill="#adc7e0"/>
<rect x="596.29" y="156.14" width="5.27" height="5.14" fill="#c2d5e7"/>
<rect x="601.56" y="156.14" width="5.27" height="5.14" fill="#c7d9e9"/>
<rect x="606.83" y="156.14" width="5.27" height="5.14" fill="#b6cde3"/>
<rect x="612.11" y="156.14" width="5.27" height="5.14" fill="#f7fcfd"/>
<rect x="617.38" y="156.14" width="5.27" height="5.14" fill="#bacfe4"/>
<rect x="622.65" y="156.14" width="5.27" height="5.14" fill="#cddeec"/>
<rect x="627.92" y="156.14" width="5.27" height="5.14" fill="#e3eef5"/>
<rect x="638.47" y="156.14" width="5.27" height="5.14" fill="#f7fcfd"/>
<rect x="643.74" y="156.14" width="5.27" height="5.14" fill="#ebf4f8"/>
<rect x="506.65" y="150.99" width="5.27" height="5.14" fill="#b2cae1"/>
<rect x="511.92" y="150.99" width="10.55" height="5.14" fill="#a7c2dd"/>
<rect x="522.46" y="150.99" width="5.27" height="5.14" fill="#a1bedb"/>
<rect x="527.74" y="150.99" width="10.55" height="5.14" fill="#b2cae1"/>
<rect x="538.28" y="150.99" width="5.27" height="5.14" fill="#9cb8d8"/>
<rect x="543.56" y="150.99" width="5.27" height="5.14" fill="#9fbcda"/>
<rect x="548.83" y="150.99" width="5.27" height="5.14" fill="#a3bfdc"/>
<rect x="554.10" y="150.99" width="5.27" height="5.14" fill="#9dbad9"/>
<rect x="559.38" y="150.99" width="5.27" height="5.14" fill="#afc8e0"/>
<rect x="564.65" y="150.99" width="5.27" height="5.14" fill="#98aed3"/>
<rect x="569.92" y="150.99" width="5.27" height="5.14" fill="#9fbcda"/>
<rect x="575.19" y="150.99" width="10.55" height="5.14" fill="#bacfe4"/>
<rect x="585.74" y="150.99" width="5.27" height="5.14" fill="#cddeec"/>
<rect x="591.01" y="150.99" width="5.27" height="5.14" fill="#c2d5e7"/>
<rect x="596.29" y="150.99" width="5.27" height="5.14" fill="#b6cde3"/>
<rect x="601.56" y="150.99" width="5.27" height="5.14" fill="#d3e2ef"/>
<rect x="606.83" y="150.99" width="15.82" height="5.14" fill="#c7d9e9"/>
<rect x="622.65" y="150.99" width="15.82" height="5.14" fill="#e3eef5"/>
<rect x="638.47" y="150.99" width="5.27" height="5.14" fill="#ebf4f8"/>
<rect x="643.74" y="150.99" width="5.27" height="5.14" fill="#dbe8f2"/>
<rect x="506.65" y="145.85" width="5.27" height="5.14" fill="#dbe8f2"/>
<rect x="511.92" y="145.85" width="5.27" height="5.14" fill="#bacfe4"/>
<rect x="517.19" y="145.85" width="5.27" height="5.14" fill="#c2d5e7"/>
<rect x="522.46" y="145.85" width="5.27" height="5.14" fill="#bacfe4"/>
<rect x="527.74" y="145.85" width="5.27" height="5.14" fill="#c7d9e9"/>
<rect x="533.01" y="145.85" width="5.27" height="5.14" fill="#f7fcfd"/>
<rect x="538.28" y="145.85" width="5.27" height="5.14" fill="#dbe8f2"/>
<rect x="543.56" y="145.85" width="5.27" height="5.14" fill="#cddeec"/>
<rect x="548.83" y="145.85" width="5.27" height="5.14" fill="#bed2e6"/>
<rect x="554.10" y="145.85" width="5.27" height="5.14" fill="#a7c2dd"/>
<rect x="559.38" y="145.85" width="5.27" height="5.14" fill="#c2d5e7"/>
<rect x="564.65" y="145.85" width="5.27" height="5.14" fill="#c7d9e9"/>
<rect x="569.92" y="145.85" width="5.27" height="5.14" fill="#bacfe4"/>
<rect x="575.19" y="145.85" width="5.27" height="5.14" fill="#d3e2ef"/>
<rect x="580.47" y="145.85" width="10.55" height="5.14" fill="#cddeec"/>
<rect x="591.01" y="145.85" width="5.27" height="5.14" fill="#e3eef5"/>
<rect x="596.29" y="145.85" width="5.27" height="5.14" fill="#c2d5e7"/>
<rect x="612.11" y="145.85" width="10.55" height="5.14" fill="#e3eef5"/>
<rect x="622.65" y="145.85" width="5.27" height="5.14" fill="#ebf4f8"/>
<rect x="627.92" y="145.85" width="5.27" height="5.14" fill="#dbe8f2"/>
<rect x="506.65" y="140.71" width="5.27" height="5.14" fill="#9fbcda"/>
<rect x="511.92" y="140.71" width="5.27" height="5.14" fill="#cddeec"/>
<rect x="517.19" y="140.71" width="5.27" height="5.14" fill="#bed2e6"/>
<rect x="522.46" y="140.71" width="5.27" height="5.14" fill="#a7c2dd"/>
<rect x="527.74" y="140.71" width="5.27" height="5.14" fill="#adc7e0"/>
<rect x="533.01" y="140.71" width="5.27" height="5.14" fill="#9cb8d8"/>
<rect x="538.28" y="140.71" width="5.27" height="5.14" fill="#b2cae1"/>
<rect x="543.56" y="140.71" width="5.27" height="5.14" fill="#a7c2dd"/>
<rect x="548.83" y="140.71" width="5.27" height="5.14" fill="#bacfe4"/>
<rect x="554.10" y="140.71" width="5.27" height="5.14" fill="#aac4de"/>
<rect x="559.38" y="140.71" width="5.27" height="5.14" fill="#a5c1dc"/>
<rect x="564.65" y="140.71" width="5.27" height="5.14" fill="#b6cde3"/>
<rect x="569.92" y="140.71" width="5.27" height="5.14" fill="#adc7e0"/>
<rect x="575.19" y="140.71" width="5.27" height="5.14" fill="#9fbcda"/>
<rect x="580.47" y="140.71" width="5.27" height="5.14" fill="#c7d9e9"/>
<rect x="585.74" y="140.71" width="5.27" height="5.14" fill="#a1bedb"/>
<rect x="591.01" y="140.71" width="5.27" height="5.14" fill="#a5c1dc"/>
<rect x="596.29" y="140.71" width="5.27" height="5.14" fill="#b6cde3"/>
<rect x="601.56" y="140.71" width="5.27" height="5.14" fill="#adc7e0"/>
<rect x="606.83" y="140.71" width="5.27" height="5.14" fill="#b6cde3"/>
<rect x="612.11" y="140.71" width="5.27" height="5.14" fill="#cddeec"/>
<rect x="617.38" y="140.71" width="5.27" height="5.14" fill="#b6cde3"/>
<rect x="622.65" y="140.71" width="5.27" height="5.14" fill="#cddeec"/>
<rect x="627.92" y="140.71" width="10.55" height="5.14" fill="#d3e2ef"/>
<rect x="638.47" y="140.71" width="5.27" height="5.14" fill="#ebf4f8"/>
<rect x="506.65" y="135.56" width="5.27" height="5.14" fill="#aac4de"/>
<rect x="511.92" y="135.56" width="5.27" height="5.14" fill="#adc7e0"/>
<rect x="517.19" y="135.56" width="5.27" height="5.14" fill="#bacfe4"/>
<rect x="522.46" y="135.56" width="5.27" height="5.14" fill="#a1bedb"/>
<rect x="527.74" y="135.56" width="10.55" height="5.14" fill="#adc7e0"/>
<rect x="538.28" y="135.56" width="5.27" height="5.14" fill="#a7c2dd"/>
<rect x="543.56" y="135.56" width="5.27" height="5.14" fill="#afc8e0"/>
<rect x="548.83" y="135.56" width="5.27" height="5.14" fill="#aac4de"/>
<rect x="554.10" y="135.56" width="5.27" height="5.14" fill="#9dbad9"/>
<rect x="559.38" y="135.56" width="5.27" height="5.14" fill="#99b2d5"/>
<rect x="564.65" y="135.56" width="5.27" height="5.14" fill="#a7c2dd"/>
<rect x="569.92" y="135.56" width="5.27" height="5.14" fill="#a3bfdc"/>
<rect x="575.19" y="135.56" width="10.55" height="5.14" fill="#9bb6d7"/>
<rect x="585.74" y="135.56" width="5.27" height="5.14" fill="#adc7e0"/>
<rect x="591.01" y="135.56" width="5.27" height="5.14" fill="#afc8e0"/>
<rect x="596.29" y="135.56" width="5.27" height="5.14" fill="#bacfe4"/>
<rect x="601.56" y="135.56" width="5.27" height="5.14" fill="#e3eef5"/>
<rect x="606.83" y="135.56" width="5.27" height="5.14" fill="#d3e2ef"/>
<rect x="612.11" y="135.56" width="5.27" height="5.14" fill="#dbe8f2"/>
<rect x="617.38" y="135.56" width="5.27" height="5.14" fill="#afc8e0"/>
<rect x="622.65" y="135.56" width="5.27" height="5.14" fill="#d3e2ef"/>
<rect x="627.92" y="135.56" width="5.27" height="5.14" fill="#dbe8f2"/>
<rect x="633.20" y="135.56" width="5.27" height="5.14" fill="#e3eef5"/>
<rect x="643.74" y="135.56" width="5.27" height="5.14" fill="#ebf4f8"/>
<rect x="654.29" y="135.56" width="5.27" height="5.14" fill="#f7fcfd"/>
<rect x="506.65" y="130.42" width="5.27" height="5.14" fill="#bacfe4"/>
<rect x="511.92" y="130.42" width="5.27" height="5.14" fill="#b2cae1"/>
<rect x="517.19" y="130.42" width="5.27" height="5.14" fill="#a7c2dd"/>
<rect x="522.46" y="130.42" width="5.27" height="5.14" fill="#adc7e0"/>
<rect x="527.74" y="130.42" width="5.27" height="5.14" fill="#a3bfdc"/>
<rect x="533.01" y="130.42" width="5.27" height="5.14" fill="#b2cae1"/>
<rect x="538.28" y="130.42" width="5.27" height="5.14" fill="#a3bfdc"/>
<rect x="543.56" y="130.42" width="5.27" height="5.14" fill="#a7c2dd"/>
<rect x="548.83" y="130.42" width="5.27" height="5.14" fill="#aac4de"/>
<rect x="554.10" y="130.42" width="5.27" height="5.14" fill="#a7c2dd"/>
<rect x="559.38" y="130.42" width="5.27" height="5.14" fill="#a3bfdc"/>
<rect x="564.65" y="130.42" width="5.27" height="5.14" fill="#9cb8d8"/>
<rect x="569.92" y="130.42" width="5.27" height="5.14" fill="#99b1d4"/>
<rect x="575.19" y="130.42" width="5.27" height="5.14" fill="#a7c2dd"/>
<rect x="580.47" y="130.42" width="5.27" height="5.14" fill="#afc8e0"/>
<rect x="585.74" y="130.42" width="5.27" height="5.14" fill="#a3bfdc"/>
<rect x="591.01" y="130.42" width="5.27" height="5.14" fill="#99b1d4"/>
<rect x="596.29" y="130.42" width="5.27" height="5.14" fill="#a1bedb"/>
<rect x="601.56" y="130.42" width="5.27" height="5.14" fill="#afc8e0"/>
<rect x="606.83" y="130.42" width="5.27" height="5.14" fill="#d3e2ef"/>
<rect x="612.11" y="130.42" width="5.27" height="5.14" fill="#a3bfdc"/>
<rect x="617.38" y="130.42" width="5.27" height="5.14" fill="#a5c1dc"/>
<rect x="622.65" y="130.42" width="5.27" height="5.14" fill="#c2d5e7"/>
<rect x="627.92" y="130.42" width="5.27" height="5.14" fill="#cddeec"/>
<rect x="633.20" y="130.42" width="5.27" height="5.14" fill="#e3eef5"/>
<rect x="638.47" y="130.42" width="5.27" height="5.14" fill="#d3e2ef"/>
<rect x="643.74" y="130.42" width="10.55" height="5.14" fill="#f7fcfd"/>
<rect x="506.65" y="125.27" width="5.27" height="5.14" fill="#a1bedb"/>
<rect x="511.92" y="125.27" width="5.27" height="5.14" fill="#a5c1dc"/>
<rect x="517.19" y="125.27" width="5.27" height="5.14" fill="#b6cde3"/>
<rect x="522.46" y="125.27" width="5.27" height="5.14" fill="#bacfe4"/>
<rect x="527.74" y="125.27" width="5.27" height="5.14" fill="#a7c2dd"/>
<rect x="533.01" y="125.27" width="5.27" height="5.14" fill="#a5c1dc"/>
<rect x="538.28" y="125.27" width="5.27" height="5.14" fill="#a1bedb"/>
<rect x="543.56" y="125.27" width="5.27" height="5.14" fill="#99b2d5"/>
<rect x="548.83" y="125.27" width="5.27" height="5.14" fill="#c2d5e7"/>
<rect x="554.10" y="125.27" width="5.27" height="5.14" fill="#9bb6d7"/>
<rect x="559.38" y="125.27" width="5.27" height="5.14" fill="#a5c1dc"/>
<rect x="564.65" y="125.27" width="5.27" height="5.14" fill="#99b1d4"/>
<rect x="569.92" y="125.27" width="10.55" height="5.14" fill="#9dbad9"/>
<rect x="580.47" y="125.27" width="5.27" height="5.14" fill="#a3bfdc"/>
<rect x="585.74" y="125.27" width="5.27" height="5.14" fill="#a7c2dd"/>
<rect x="591.01" y="125.27" width="5.27" height="5.14" fill="#afc8e0"/>
<rect x="596.29" y="125.27" width="5.27" height="5.14" fill="#a3bfdc"/>
<rect x="601.56" y="125.27" width="5.27" height="5.14" fill="#bed2e6"/>
<rect x="606.83" y="125.27" width="5.27" height="5.14" fill="#a3bfdc"/>
<rect x="612.11" y="125.27" width="5.27" height="5.14" fill="#c2d5e7"/>
<rect x="617.38" y="125.27" width="5.27" height="5.14" fill="#cddeec"/>
<rect x="622.65" y="125.27" width="5.27" height="5.14" fill="#bed2e6"/>
<rect x="627.92" y="125.27" width="5.27" height="5.14" fill="#dbe8f2"/>
<rect x="633.20" y="125.27" width="10.55" height="5.14" fill="#ebf4f8"/>
<rect x="649.02" y="125.27" width="5.27" height="5.14" fill="#f7fcfd"/>
<rect x="506.65" y="120.13" width="5.27" height="5.14" fill="#afc8e0"/>
<rect x="511.92" y="120.13" width="5.27" height="5.14" fill="#c7d9e9"/>
<rect x="517.19" y="120.13" width="5.27" height="5.14" fill="#99b1d4"/>
<rect x="522.46" y="120.13" width="5.27" height="5.14" fill="#aac4de"/>
<rect x="527.74" y="120.13" width="5.27" height="5.14" fill="#afc8e0"/>
<rect x="533.01" y="120.13" width="5.27" height="5.14" fill="#a3bfdc"/>
<rect x="538.28" y="120.13" width="5.27" height="5.14" fill="#99b1d4"/>
<rect x="543.56" y="120.13" width="5.27" height="5.14" fill="#a1bedb"/>
<rect x="548.83" y="120.13" width="5.27" height="5.14" fill="#9ab4d6"/>
<rect x="554.10" y="120.13" width="5.27" height="5.14" fill="#a1bedb"/>
<rect x="559.38" y="120.13" width="5.27" height="5.14" fill="#98aed3"/>
<rect x="564.65" y="120.13" width="5.27" height="5.14" fill="#9bb6d7"/>
<rect x="569.92" y="120.13" width="5.27" height="5.14" fill="#98aed3"/>
<rect x="575.19" y="120.13" width="5.27" height="5.14" fill="#99b1d4"/>
<rect x="580.47" y="120.13" width="5.27" height="5.14" fill="#a5c1dc"/>
<rect x="585.74" y="120.13" width="5.27" height="5.14" fill="#aac4de"/>
<rect x="591.01" y="120.13" width="5.27" height="5.14" fill="#a5c1dc"/>
<rect x="596.29" y="120.13" width="5.27" height="5.14" fill="#9dbad9"/>
<rect x="601.56" y="120.13" width="5.27" height="5.14" fill="#bacfe4"/>
<rect x="606.83" y="120.13" width="5.27" height="5.14" fill="#b6cde3"/>
<rect x="612.11" y="120.13" width="5.27" height="5.14" fill="#b2cae1"/>
<rect x="617.38" y="120.13" width="5.27" height="5.14" fill="#bacfe4"/>
<rect x="622.65" y="120.13" width="5.27" height="5.14" fill="#adc7e0"/>
<rect x="627.92" y="120.13" width="5.27" height="5.14" fill="#c2d5e7"/>
<rect x="633.20" y="120.13" width="5.27" height="5.14" fill="#b2cae1"/>
<rect x="638.47" y="120.13" width="5.27" height="5.14" fill="#e3eef5"/>
<rect x="506.65" y="114.99" width="5.27" height="5.14" fill="#cddeec"/>
<rect x="511.92" y="114.99" width="5.27" height="5.14" fill="#a3bfdc"/>
<rect x="517.19" y="114.99" width="5.27" height="5.14" fill="#b6cde3"/>
<rect x="522.46" y="114.99" width="5.27" height="5.14" fill="#afc8e0"/>
<rect x="527.74" y="114.99" width="5.27" height="5.14" fill="#aac4de"/>
<rect x="533.01" y="114.99" width="5.27" height="5.14" fill="#b2cae1"/>
<rect x="538.28" y="114.99" width="5.27" height="5.14" fill="#afc8e0"/>
<rect x="543.56" y="114.99" width="5.27" height="5.14" fill="#9bb6d7"/>
<rect x="548.83" y="114.99" width="5.27" height="5.14" fill="#9dbad9"/>
<rect x="554.10" y="114.99" width="5.27" height="5.14" fill="#a7c2dd"/>
<rect x="559.38" y="114.99" width="5.27" height="5.14" fill="#a1bedb"/>
<rect x="564.65" y="114.99" width="15.82" height="5.14" fill="#9dbad9"/>
<rect x="580.47" y="114.99" width="5.27" height="5.14" fill="#a1bedb"/>
<rect x="585.74" y="114.99" width="5.27" height="5.14" fill="#97add2"/>
<rect x="591.01" y="114.99" width="5.27" height="5.14" fill="#99b1d4"/>
<rect x="596.29" y="114.99" width="5.27" height="5.14" fill="#a1bedb"/>
<rect x="601.56" y="114.99" width="5.27" height="5.14" fill="#b2cae1"/>
<rect x="606.83" y="114.99" width="5.27" height="5.14" fill="#a5c1dc"/>
<rect x="612.11" y="114.99" width="5.27" height="5.14" fill="#afc8e0"/>
<rect x="617.38" y="114.99" width="5.27" height="5.14" fill="#b2cae1"/>
<rect x="622.65" y="114.99" width="5.27" height="5.14" fill="#afc8e0"/>
<rect x="627.92" y="114.99" width="5.27" height="5.14" fill="#dbe8f2"/>
<rect x="633.20" y="114.99" width="5.27" height="5.14" fill="#b6cde3"/>
<rect x="638.47" y="114.99" width="5.27" height="5.14" fill="#d3e2ef"/>
<rect x="643.74" y="114.99" width="5.27" height="5.14" fill="#dbe8f2"/>
<rect x="649.02" y="114.99" width="10.55" height="5.14" fill="#f7fcfd"/>
<rect x="506.65" y="109.84" width="5.27" height="5.14" fill="#cddeec"/>
<rect x="511.92" y="109.84" width="5.27" height="5.14" fill="#c2d5e7"/>
<rect x="517.19" y="109.84" width="5.27" height="5.14" fill="#bed2e6"/>
<rect x="522.46" y="109.84" width="5.27" height="5.14" fill="#b6cde3"/>
<rect x="527.74" y="109.84" width="5.27" height="5.14" fill="#b2cae1"/>
<rect x="533.01" y="109.84" width="5.27" height="5.14" fill="#9bb6d7"/>
<rect x="538.28" y="109.84" width="5.27" height="5.14" fill="#b2cae1"/>
<rect x="543.56" y="109.84" width="5.27" height="5.14" fill="#a5c1dc"/>
<rect x="548.83" y="109.84" width="5.27" height="5.14" fill="#9fbcda"/>
<rect x="554.10" y="109.84" width="5.27" height="5.14" fill="#aac4de"/>
<rect x="559.38" y="109.84" width="5.27" height="5.14" fill="#a1bedb"/>
<rect x="564.65" y="109.84" width="5.27" height="5.14" fill="#99b1d4"/>
<rect x="569.92" y="109.84" width="5.27" height="5.14" fill="#a1bedb"/>
<rect x="575.19" y="109.84" width="5.27" height="5.14" fill="#98aed3"/>
<rect x="580.47" y="109.84" width="5.27" height="5.14" fill="#9fbcda"/>
<rect x="585.74" y="109.84" width="5.27" height="5.14" fill="#99b2d5"/>
<rect x="591.01" y="109.84" width="5.27" height="5.14" fill="#99b1d4"/>
<rect x="596.29" y="109.84" width="5.27" height="5.14" fill="#97add2"/>
<rect x="601.56" y="109.84" width="5.27" height="5.14" fill="#98aed3"/>
<rect x="606.83" y="109.84" width="5.27" height="5.14" fill="#9dbad9"/>
<rect x="612.11" y="109.84" width="5.27" height="5.14" fill="#a7c2dd"/>
<rect x="617.38" y="109.84" width="5.27" height="5.14" fill="#a3bfdc"/>
<rect x="622.65" y="109.84" width="10.55" height="5.14" fill="#a7c2dd"/>
<rect x="633.20" y="109.84" width="5.27" height="5.14" fill="#cddeec"/>
<rect x="638.47" y="109.84" width="5.27" height="5.14" fill="#f7fcfd"/>
<rect x="643.74" y="109.84" width="5.27" height="5.14" fill="#d3e2ef"/>
<rect x="649.02" y="109.84" width="5.27" height="5.14" fill="#ebf4f8"/>
<rect x="654.29" y="109.84" width="5.27" height="5.14" fill="#e3eef5"/>
<rect x="506.65" y="104.70" width="5.27" height="5.14" fill="#adc7e0"/>
<rect x="511.92" y="104.70" width="5.27" height="5.14" fill="#9fbcda"/>
<rect x="517.19" y="104.70" width="5.27" height="5.14" fill="#a3bfdc"/>
<rect x="522.46" y="104.70" width="5.27" height="5.14" fill="#b2cae1"/>
<rect x="527.74" y="104.70" width="5.27" height="5.14" fill="#bacfe4"/>
<rect x="533.01" y="104.70" width="5.27" height="5.14" fill="#b6cde3"/>
<rect x="538.28" y="104.70" width="5.27" height="5.14" fill="#a5c1dc"/>
<rect x="543.56" y="104.70" width="5.27" height="5.14" fill="#b6cde3"/>
<rect x="548.83" y="104.70" width="5.27" height="5.14" fill="#a3bfdc"/>
<rect x="554.10" y="104.70" width="5.27" height="5.14" fill="#9cb8d8"/>
<rect x="559.38" y="104.70" width="5.27" height="5.14" fill="#b6cde3"/>
<rect x="564.65" y="104.70" width="5.27" height="5.14" fill="#a3bfdc"/>
<rect x="569.92" y="104.70" width="5.27" height="5.14" fill="#9dbad9"/>
<rect x="575.19" y="104.70" width="5.27" height="5.14" fill="#99b1d4"/>
<rect x="580.47" y="104.70" width="10.55" height="5.14" fill="#93a5ce"/>
<rect x="591.01" y="104.70" width="5.27" height="5.14" fill="#99b1d4"/>
<rect x="596.29" y="104.70" width="5.27" height="5.14" fill="#94a6ce"/>
<rect x="601.56" y="104.70" width="5.27" height="5.14" fill="#a1bedb"/>
<rect x="606.83" y="104.70" width="5.27" height="5.14" fill="#9ab4d6"/>
<rect x="612.11" y="104.70" width="10.55" height="5.14" fill="#9fbcda"/>
<rect x="622.65" y="104.70" width="5.27" height="5.14" fill="#a5c1dc"/>
<rect x="627.92" y="104.70" width="5.27" height="5.14" fill="#bacfe4"/>
<rect x="633.20" y="104.70" width="5.27" height="5.14" fill="#d3e2ef"/>
<rect x="638.47" y="104.70" width="10.55" height="5.14" fill="#e3eef5"/>
<rect x="649.02" y="104.70" width="5.27" height="5.14" fill="#cddeec"/>
<rect x="654.29" y="104.70" width="5.27" height="5.14" fill="#e3eef5"/>
<rect x="506.65" y="99.55" width="5.27" height="5.14" fill="#b6cde3"/>
<rect x="511.92" y="99.55" width="5.27" height="5.14" fill="#adc7e0"/>
<rect x="517.19" y="99.55" width="5.27" height="5.14" fill="#9bb6d7"/>
<rect x="522.46" y="99.55" width="5.27" height="5.14" fill="#d3e2ef"/>
<rect x="527.74" y="99.55" width="5.27" height="5.14" fill="#9cb8d8"/>
<rect x="533.01" y="99.55" width="5.27" height="5.14" fill="#a5c1dc"/>
<rect x="538.28" y="99.55" width="5.27" height="5.14" fill="#a1bedb"/>
<rect x="543.56" y="99.55" width="5.27" height="5.14" fill="#9dbad9"/>
<rect x="548.83" y="99.55" width="5.27" height="5.14" fill="#9cb8d8"/>
<rect x="554.10" y="99.55" width="5.27" height="5.14" fill="#99b1d4"/>
<rect x="559.38" y="99.55" width="5.27" height="5.14" fill="#aac4de"/>
<rect x="564.65" y="99.55" width="5.27" height="5.14" fill="#a1bedb"/>
<rect x="569.92" y="99.55" width="5.27" height="5.14" fill="#9bb6d7"/>
<rect x="575.19" y="99.55" width="5.27" height="5.14" fill="#99b1d4"/>
<rect x="580.47" y="99.55" width="5.27" height="5.14" fill="#97add2"/>
<rect x="585.74" y="99.55" width="5.27" height="5.14" fill="#93a5ce"/>
<rect x="591.01" y="99.55" width="5.27" height="5.14" fill="#99b2d5"/>
<rect x="596.29" y="99.55" width="5.27" height="5.14" fill="#97add2"/>
<rect x="601.56" y="99.55" width="5.27" height="5.14" fill="#9ab4d6"/>
<rect x="606.83" y="99.55" width="5.27" height="5.14" fill="#98aed3"/>
<rect x="612.11" y="99.55" width="5.27" height="5.14" fill="#97add2"/>
<rect x="617.38" y="99.55" width="10.55" height="5.14" fill="#9dbad9"/>
<rect x="627.92" y="99.55" width="5.27" height="5.14" fill="#adc7e0"/>
<rect x="633.20" y="99.55" width="5.27" height="5.14" fill="#b2cae1"/>
<rect x="638.47" y="99.55" width="5.27" height="5.14" fill="#bed2e6"/>
<rect x="643.74" y="99.55" width="5.27" height="5.14" fill="#ebf4f8"/>
<rect x="649.02" y="99.55" width="5.27" height="5.14" fill="#c7d9e9"/>
<rect x="654.29" y="99.55" width="5.27" height="5.14" fill="#ebf4f8"/>
<rect x="506.65" y="94.41" width="5.27" height="5.14" fill="#b6cde3"/>
<rect x="511.92" y="94.41" width="5.27" height="5.14" fill="#b2cae1"/>
<rect x="517.19" y="94.41" width="5.27" height="5.14" fill="#aac4de"/>
<rect x="522.46" y="94.41" width="5.27" height="5.14" fill="#afc8e0"/>
<rect x="527.74" y="94.41" width="5.27" height="5.14" fill="#b6cde3"/>
<rect x="533.01" y="94.41" width="5.27" height="5.14" fill="#9fbcda"/>
<rect x="538.28" y="94.41" width="5.27" height="5.14" fill="#b6cde3"/>
<rect x="543.56" y="94.41" width="5.27" height="5.14" fill="#9dbad9"/>
<rect x="548.83" y="94.41" width="5.27" height="5.14" fill="#a7c2dd"/>
<rect x="554.10" y="94.41" width="5.27" height="5.14" fill="#98aed3"/>
<rect x="559.38" y="94.41" width="5.27" height="5.14" fill="#99b1d4"/>
<rect x="564.65" y="94.41" width="5.27" height="5.14" fill="#96abd1"/>
<rect x="569.92" y="94.41" width="5.27" height="5.14" fill="#99b1d4"/>
<rect x="575.19" y="94.41" width="5.27" height="5.14" fill="#8c94c5"/>
<rect x="580.47" y="94.41" width="5.27" height="5.14" fill="#98aed3"/>
<rect x="585.74" y="94.41" width="10.55" height="5.14" fill="#94a6ce"/>
<rect x="596.29" y="94.41" width="10.55" height="5.14" fill="#92a3cd"/>
<rect x="606.83" y="94.41" width="5.27" height="5.14" fill="#97add2"/>
<rect x="612.11" y="94.41" width="5.27" height="5.14" fill="#9ab4d6"/>
<rect x="617.38" y="94.41" width="5.27" height="5.14" fill="#9cb8d8"/>
<rect x="622.65" y="94.41" width="5.27" height="5.14" fill="#a1bedb"/>
<rect x="627.92" y="94.41" width="5.27" height="5.14" fill="#97add2"/>
<rect x="633.20" y="94.41" width="5.27" height="5.14" fill="#afc8e0"/>
<rect x="638.47" y="94.41" width="5.27" height="5.14" fill="#dbe8f2"/>
<rect x="643.74" y="94.41" width="5.27" height="5.14" fill="#e3eef5"/>
<rect x="649.02" y="94.41" width="5.27" height="5.14" fill="#b2cae1"/>
<rect x="654.29" y="94.41" width="5.27" height="5.14" fill="#f7fcfd"/>
<rect x="506.65" y="89.27" width="5.27" height="5.14" fill="#adc7e0"/>
<rect x="511.92" y="89.27" width="5.27" height="5.14" fill="#b2cae1"/>
<rect x="517.19" y="89.27" width="5.27" height="5.14" fill="#9cb8d8"/>
<rect x="522.46" y="89.27" width="5.27" height="5.14" fill="#a5c1dc"/>
<rect x="527.74" y="89.27" width="5.27" height="5.14" fill="#afc8e0"/>
<rect x="533.01" y="89.27" width="5.27" height="5.14" fill="#9dbad9"/>
<rect x="538.28" y="89.27" width="5.27" height="5.14" fill="#a3bfdc"/>
<rect x="543.56" y="89.27" width="5.27" height="5.14" fill="#a5c1dc"/>
<rect x="548.83" y="89.27" width="5.27" height="5.14" fill="#a3bfdc"/>
<rect x="554.10" y="89.27" width="5.27" height="5.14" fill="#99b1d4"/>
<rect x="559.38" y="89.27" width="10.55" height="5.14" fill="#97add2"/>
<rect x="569.92" y="89.27" width="5.27" height="5.14" fill="#95a8d0"/>
<rect x="575.19" y="89.27" width="5.27" height="5.14" fill="#95aad0"/>
<rect x="580.47" y="89.27" width="10.55" height="5.14" fill="#92a3cd"/>
<rect x="591.01" y="89.27" width="5.27" height="5.14" fill="#95aad0"/>
<rect x="596.29" y="89.27" width="5.27" height="5.14" fill="#8f9dc9"/>
<rect x="601.56" y="89.27" width="5.27" height="5.14" fill="#92a4cd"/>
<rect x="606.83" y="89.27" width="5.27" height="5.14" fill="#91a1cc"/>
<rect x="612.11" y="89.27" width="5.27" height="5.14" fill="#96abd1"/>
<rect x="617.38" y="89.27" width="5.27" height="5.14" fill="#9ab4d6"/>
<rect x="622.65" y="89.27" width="5.27" height="5.14" fill="#9bb6d7"/>
<rect x="627.92" y="89.27" width="5.27" height="5.14" fill="#a3bfdc"/>
<rect x="633.20" y="89.27" width="5.27" height="5.14" fill="#a1bedb"/>
<rect x="638.47" y="89.27" width="5.27" height="5.14" fill="#b2cae1"/>
<rect x="643.74" y="89.27" width="5.27" height="5.14" fill="#c2d5e7"/>
<rect x="649.02" y="89.27" width="10.55" height="5.14" fill="#f7fcfd"/>
<rect x="506.65" y="84.12" width="5.27" height="5.14" fill="#c7d9e9"/>
<rect x="511.92" y="84.12" width="5.27" height="5.14" fill="#bacfe4"/>
<rect x="517.19" y="84.12" width="5.27" height="5.14" fill="#b2cae1"/>
<rect x="522.46" y="84.12" width="5.27" height="5.14" fill="#c2d5e7"/>
<rect x="527.74" y="84.12" width="5.27" height="5.14" fill="#a7c2dd"/>
<rect x="533.01" y="84.12" width="5.27" height="5.14" fill="#bed2e6"/>
<rect x="538.28" y="84.12" width="5.27" height="5.14" fill="#a3bfdc"/>
<rect x="543.56" y="84.12" width="5.27" height="5.14" fill="#9dbad9"/>
<rect x="548.83" y="84.12" width="5.27" height="5.14" fill="#a7c2dd"/>
<rect x="554.10" y="84.12" width="5.27" height="5.14" fill="#9ab4d6"/>
<rect x="559.38" y="84.12" width="5.27" height="5.14" fill="#99b1d4"/>
<rect x="564.65" y="84.12" width="5.27" height="5.14" fill="#9cb8d8"/>
<rect x="569.92" y="84.12" width="5.27" height="5.14" fill="#95aad0"/>
<rect x="575.19" y="84.12" width="5.27" height="5.14" fill="#92a4cd"/>
<rect x="580.47" y="84.12" width="5.27" height="5.14" fill="#909eca"/>
<rect x="585.74" y="84.12" width="5.27" height="5.14" fill="#8d98c7"/>
<rect x="591.01" y="84.12" width="5.27" height="5.14" fill="#8d99c8"/>
<rect x="596.29" y="84.12" width="5.27" height="5.14" fill="#92a3cd"/>
<rect x="601.56" y="84.12" width="5.27" height="5.14" fill="#8f9bc9"/>
<rect x="606.83" y="84.12" width="10.55" height="5.14" fill="#91a1cc"/>
<rect x="617.38" y="84.12" width="5.27" height="5.14" fill="#909fcb"/>
<rect x="622.65" y="84.12" width="5.27" height="5.14" fill="#99b2d5"/>
<rect x="627.92" y="84.12" width="10.55" height="5.14" fill="#9dbad9"/>
<rect x="638.47" y="84.12" width="5.27" height="5.14" fill="#b6cde3"/>
<rect x="643.74" y="84.12" width="5.27" height="5.14" fill="#a3bfdc"/>
<rect x="649.02" y="84.12" width="10.55" height="5.14" fill="#e3eef5"/>
<rect x="659.56" y="84.12" width="5.27" height="5.14" fill="#d3e2ef"/>
<rect x="506.65" y="78.98" width="5.27" height="5.14" fill="#c7d9e9"/>
<rect x="511.92" y="78.98" width="5.27" height="5.14" fill="#9dbad9"/>
<rect x="517.19" y="78.98" width="5.27" height="5.14" fill="#b2cae1"/>
<rect x="522.46" y="78.98" width="5.27" height="5.14" fill="#a7c2dd"/>
<rect x="527.74" y="78.98" width="5.27" height="5.14" fill="#bacfe4"/>
<rect x="533.01" y="78.98" width="5.27" height="5.14" fill="#9fbcda"/>
<rect x="538.28" y="78.98" width="10.55" height="5.14" fill="#a5c1dc"/>
<rect x="548.83" y="78.98" width="5.27" height="5.14" fill="#9cb8d8"/>
<rect x="554.10" y="78.98" width="5.27" height="5.14" fill="#aac4de"/>
<rect x="559.38" y="78.98" width="5.27" height="5.14" fill="#9dbad9"/>
<rect x="564.65" y="78.98" width="5.27" height="5.14" fill="#95a8d0"/>
<rect x="569.92" y="78.98" width="5.27" height="5.14" fill="#8f9bc9"/>
<rect x="575.19" y="78.98" width="5.27" height="5.14" fill="#8d99c8"/>
<rect x="580.47" y="78.98" width="5.27" height="5.14" fill="#8f9bc9"/>
<rect x="585.74" y="78.98" width="10.55" height="5.14" fill="#8c93c4"/>
<rect x="596.29" y="78.98" width="5.27" height="5.14" fill="#8f9bc9"/>
<rect x="601.56" y="78.98" width="5.27" height="5.14" fill="#909eca"/>
<rect x="606.83" y="78.98" width="5.27" height="5.14" fill="#8f9dc9"/>
<rect x="612.11" y="78.98" width="5.27" height="5.14" fill="#8d98c7"/>
<rect x="617.38" y="78.98" width="5.27" height="5.14" fill="#91a0cb"/>
<rect x="622.65" y="78.98" width="5.27" height="5.14" fill="#95a8d0"/>
<rect x="627.92" y="78.98" width="5.27" height="5.14" fill="#93a5ce"/>
<rect x="633.20" y="78.98" width="5.27" height="5.14" fill="#98aed3"/>
<rect x="638.47" y="78.98" width="5.27" height="5.14" fill="#9dbad9"/>
<rect x="643.74" y="78.98" width="5.27" height="5.14" fill="#b6cde3"/>
<rect x="649.02" y="78.98" width="5.27" height="5.14" fill="#bed2e6"/>
<rect x="654.29" y="78.98" width="5.27" height="5.14" fill="#cddeec"/>
<rect x="659.56" y="78.98" width="5.27" height="5.14" fill="#ebf4f8"/>
<rect x="664.84" y="78.98" width="5.27" height="5.14" fill="#f7fcfd"/>
<rect x="670.11" y="78.98" width="5.27" height="5.14" fill="#dbe8f2"/>
<rect x="506.65" y="73.83" width="5.27" height="5.14" fill="#c7d9e9"/>
<rect x="511.92" y="73.83" width="5.27" height="5.14" fill="#afc8e0"/>
<rect x="517.19" y="73.83" width="5.27" height="5.14" fill="#a1bedb"/>
<rect x="522.46" y="73.83" width="5.27" height="5.14" fill="#99b2d5"/>
<rect x="527.74" y="73.83" width="5.27" height="5.14" fill="#9dbad9"/>
<rect x="533.01" y="73.83" width="5.27" height="5.14" fill="#b6cde3"/>
<rect x="538.28" y="73.83" width="5.27" height="5.14" fill="#a1bedb"/>
<rect x="543.56" y="73.83" width="5.27" height="5.14" fill="#9fbcda"/>
<rect x="548.83" y="73.83" width="5.27" height="5.14" fill="#a1bedb"/>
<rect x="554.10" y="73.83" width="5.27" height="5.14" fill="#9ab4d6"/>
<rect x="559.38" y="73.83" width="5.27" height="5.14" fill="#a1bedb"/>
<rect x="564.65" y="73.83" width="5.27" height="5.14" fill="#95aad0"/>
<rect x="569.92" y="73.83" width="5.27" height="5.14" fill="#94a6ce"/>
<rect x="575.19" y="73.83" width="5.27" height="5.14" fill="#93a5ce"/>
<rect x="580.47" y="73.83" width="5.27" height="5.14" fill="#8e9ac8"/>
<rect x="585.74" y="73.83" width="5.27" height="5.14" fill="#8c8fc2"/>
<rect x="591.01" y="73.83" width="5.27" height="5.14" fill="#8c93c4"/>
<rect x="596.29" y="73.83" width="5.27" height="5.14" fill="#8c97c6"/>
<rect x="601.56" y="73.83" width="5.27" height="5.14" fill="#8c91c4"/>
<rect x="606.83" y="73.83" width="5.27" height="5.14" fill="#8c86be"/>
<rect x="612.11" y="73.83" width="5.27" height="5.14" fill="#8c82bc"/>
<rect x="617.38" y="73.83" width="10.55" height="5.14" fill="#8f9dc9"/>
<rect x="627.92" y="73.83" width="5.27" height="5.14" fill="#95aad0"/>
<rect x="633.20" y="73.83" width="10.55" height="5.14" fill="#9ab4d6"/>
<rect x="643.74" y="73.83" width="5.27" height="5.14" fill="#9fbcda"/>
<rect x="649.02" y="73.83" width="5.27" height="5.14" fill="#adc7e0"/>
<rect x="654.29" y="73.83" width="5.27" height="5.14" fill="#ebf4f8"/>
<rect x="659.56" y="73.83" width="5.27" height="5.14" fill="#cddeec"/>
<rect x="670.11" y="73.83" width="5.27" height="5.14" fill="#f7fcfd"/>
<rect x="506.65" y="68.69" width="5.27" height="5.14" fill="#b2cae1"/>
<rect x="511.92" y="68.69" width="10.55" height="5.14" fill="#cddeec"/>
<rect x="522.46" y="68.69" width="5.27" height="5.14" fill="#c7d9e9"/>
<rect x="527.74" y="68.69" width="5.27" height="5.14" fill="#adc7e0"/>
<rect x="533.01" y="68.69" width="5.27" height="5.14" fill="#a3bfdc"/>
<rect x="538.28" y="68.69" width="5.27" height="5.14" fill="#adc7e0"/>
<rect x="543.56" y="68.69" width="5.27" height="5.14" fill="#aac4de"/>
<rect x="548.83" y="68.69" width="5.27" height="5.14" fill="#a5c1dc"/>
<rect x="554.10" y="68.69" width="5.27" height="5.14" fill="#9dbad9"/>
<rect x="559.38" y="68.69" width="5.27" height="5.14" fill="#95aad0"/>
<rect x="564.65" y="68.69" width="5.27" height="5.14" fill="#94a6ce"/>
<rect x="569.92" y="68.69" width="10.55" height="5.14" fill="#8f9bc9"/>
<rect x="580.47" y="68.69" width="5.27" height="5.14" fill="#8d98c7"/>
<rect x="585.74" y="68.69" width="5.27" height="5.14" fill="#8c90c3"/>
<rect x="591.01" y="68.69" width="5.27" height="5.14" fill="#8c95c6"/>
<rect x="596.29" y="68.69" width="5.27" height="5.14" fill="#8c86be"/>
<rect x="601.56" y="68.69" width="5.27" height="5.14" fill="#8c84bd"/>
<rect x="606.83" y="68.69" width="5.27" height="5.14" fill="#8c93c4"/>
<rect x="612.11" y="68.69" width="5.27" height="5.14" fill="#8c86be"/>
<rect x="617.38" y="68.69" width="5.27" height="5.14" fill="#8c8dc2"/>
<rect x="622.65" y="68.69" width="5.27" height="5.14" fill="#8c97c6"/>
<rect x="627.92" y="68.69" width="5.27" height="5.14" fill="#92a3cd"/>
<rect x="633.20" y="68.69" width="5.27" height="5.14" fill="#91a0cb"/>
<rect x="638.47" y="68.69" width="5.27" height="5.14" fill="#9ab4d6"/>
<rect x="643.74" y="68.69" width="5.27" height="5.14" fill="#9fbcda"/>
<rect x="649.02" y="68.69" width="5.27" height="5.14" fill="#a1bedb"/>
<rect x="654.29" y="68.69" width="5.27" height="5.14" fill="#c2d5e7"/>
<rect x="659.56" y="68.69" width="5.27" height="5.14" fill="#d3e2ef"/>
<rect x="664.84" y="68.69" width="5.27" height="5.14" fill="#ebf4f8"/>
<rect x="675.38" y="68.69" width="5.27" height="5.14" fill="#f7fcfd"/>
<rect x="506.65" y="63.55" width="5.27" height="5.14" fill="#dbe8f2"/>
<rect x="511.92" y="63.55" width="10.55" height="5.14" fill="#c2d5e7"/>
<rect x="522.46" y="63.55" width="5.27" height="5.14" fill="#adc7e0"/>
<rect x="527.74" y="63.55" width="5.27" height="5.14" fill="#9fbcda"/>
<rect x="533.01" y="63.55" width="5.27" height="5.14" fill="#b6cde3"/>
<rect x="538.28" y="63.55" width="5.27" height="5.14" fill="#aac4de"/>
<rect x="543.56" y="63.55" width="5.27" height="5.14" fill="#a7c2dd"/>
<rect x="548.83" y="63.55" width="5.27" height="5.14" fill="#99b1d4"/>
<rect x="554.10" y="63.55" width="5.27" height="5.14" fill="#9ab4d6"/>
<rect x="559.38" y="63.55" width="5.27" height="5.14" fill="#9fbcda"/>
<rect x="564.65" y="63.55" width="10.55" height="5.14" fill="#92a4cd"/>
<rect x="575.19" y="63.55" width="5.27" height="5.14" fill="#91a0cb"/>
<rect x="580.47" y="63.55" width="5.27" height="5.14" fill="#8c91c4"/>
<rect x="585.74" y="63.55" width="5.27" height="5.14" fill="#8c93c4"/>
<rect x="591.01" y="63.55" width="5.27" height="5.14" fill="#8d99c8"/>
<rect x="596.29" y="63.55" width="5.27" height="5.14" fill="#8c8dc2"/>
<rect x="601.56" y="63.55" width="5.27" height="5.14" fill="#8c8fc2"/>
<rect x="606.83" y="63.55" width="5.27" height="5.14" fill="#8c82bc"/>
<rect x="612.11" y="63.55" width="5.27" height="5.14" fill="#8c81bc"/>
<rect x="617.38" y="63.55" width="5.27" height="5.14" fill="#8c86be"/>
<rect x="622.65" y="63.55" width="5.27" height="5.14" fill="#8c82bc"/>
<rect x="627.92" y="63.55" width="5.27" height="5.14" fill="#8c90c3"/>
<rect x="633.20" y="63.55" width="5.27" height="5.14" fill="#8e9ac8"/>
<rect x="638.47" y="63.55" width="5.27" height="5.14" fill="#909fcb"/>
<rect x="643.74" y="63.55" width="5.27" height="5.14" fill="#a5c1dc"/>
<rect x="649.02" y="63.55" width="5.27" height="5.14" fill="#bed2e6"/>
<rect x="654.29" y="63.55" width="5.27" height="5.14" fill="#aac4de"/>
<rect x="659.56" y="63.55" width="5.27" height="5.14" fill="#c2d5e7"/>
<rect x="664.84" y="63.55" width="5.27" height="5.14" fill="#bed2e6"/>
<rect x="670.11" y="63.55" width="5.27" height="5.14" fill="#ebf4f8"/>
<rect x="675.38" y="63.55" width="5.27" height="5.14" fill="#e3eef5"/>
<rect x="506.65" y="58.40" width="5.27" height="5.14" fill="#adc7e0"/>
<rect x="511.92" y="58.40" width="5.27" height="5.14" fill="#b6cde3"/>
<rect x="517.19" y="58.40" width="5.27" height="5.14" fill="#bed2e6"/>
<rect x="522.46" y="58.40" width="5.27" height="5.14" fill="#adc7e0"/>
<rect x="527.74" y="58.40" width="5.27" height="5.14" fill="#aac4de"/>
<rect x="533.01" y="58.40" width="5.27" height="5.14" fill="#bacfe4"/>
<rect x="538.28" y="58.40" width="5.27" height="5.14" fill="#95aad0"/>
<rect x="543.56" y="58.40" width="5.27" height="5.14" fill="#b6cde3"/>
<rect x="548.83" y="58.40" width="5.27" height="5.14" fill="#9cb8d8"/>
<rect x="554.10" y="58.40" width="5.27" height="5.14" fill="#b2cae1"/>
<rect x="559.38" y="58.40" width="5.27" height="5.14" fill="#9ab4d6"/>
<rect x="564.65" y="58.40" width="5.27" height="5.14" fill="#98aed3"/>
<rect x="569.92" y="58.40" width="5.27" height="5.14" fill="#92a4cd"/>
<rect x="575.19" y="58.40" width="5.27" height="5.14" fill="#909fcb"/>
<rect x="580.47" y="58.40" width="5.27" height="5.14" fill="#8d98c7"/>
<rect x="585.74" y="58.40" width="5.27" height="5.14" fill="#8c8dc2"/>
<rect x="591.01" y="58.40" width="10.55" height="5.14" fill="#8c88bf"/>
<rect x="601.56" y="58.40" width="5.27" height="5.14" fill="#8c8cc1"/>
<rect x="606.83" y="58.40" width="5.27" height="5.14" fill="#8c7eba"/>
<rect x="612.11" y="58.40" width="5.27" height="5.14" fill="#8c7dba"/>
<rect x="617.38" y="58.40" width="5.27" height="5.14" fill="#8c80bb"/>
<rect x="622.65" y="58.40" width="5.27" height="5.14" fill="#8c86be"/>
<rect x="627.92" y="58.40" width="5.27" height="5.14" fill="#8c8dc2"/>
<rect x="633.20" y="58.40" width="5.27" height="5.14" fill="#8c89c0"/>
<rect x="638.47" y="58.40" width="5.27" height="5.14" fill="#8c8bc0"/>
<rect x="643.74" y="58.40" width="5.27" height="5.14" fill="#91a0cb"/>
<rect x="649.02" y="58.40" width="5.27" height="5.14" fill="#98aed3"/>
<rect x="654.29" y="58.40" width="5.27" height="5.14" fill="#a7c2dd"/>
<rect x="659.56" y="58.40" width="5.27" height="5.14" fill="#afc8e0"/>
<rect x="664.84" y="58.40" width="5.27" height="5.14" fill="#d3e2ef"/>
<rect x="670.11" y="58.40" width="5.27" height="5.14" fill="#dbe8f2"/>
<rect x="675.38" y="58.40" width="5.27" height="5.14" fill="#cddeec"/>
<rect x="680.65" y="58.40" width="5.27" height="5.14" fill="#f7fcfd"/>
<rect x="506.65" y="53.26" width="5.27" height="5.14" fill="#bacfe4"/>
<rect x="511.92" y="53.26" width="5.27" height="5.14" fill="#c7d9e9"/>
<rect x="517.19" y="53.26" width="5.27" height="5.14" fill="#bed2e6"/>
<rect x="522.46" y="53.26" width="5.27" height="5.14" fill="#b6cde3"/>
<rect x="527.74" y="53.26" width="5.27" height="5.14" fill="#b2cae1"/>
<rect x="533.01" y="53.26" width="5.27" height="5.14" fill="#bacfe4"/>
<rect x="538.28" y="53.26" width="5.27" height="5.14" fill="#9cb8d8"/>
<rect x="543.56" y="53.26" width="5.27" height="5.14" fill="#adc7e0"/>
<rect x="548.83" y="53.26" width="5.27" height="5.14" fill="#99b2d5"/>
<rect x="554.10" y="53.26" width="10.55" height="5.14" fill="#9cb8d8"/>
<rect x="564.65" y="53.26" width="5.27" height="5.14" fill="#9ab4d6"/>
<rect x="569.92" y="53.26" width="5.27" height="5.14" fill="#8f9bc9"/>
<rect x="575.19" y="53.26" width="5.27" height="5.14" fill="#91a1cc"/>
<rect x="580.47" y="53.26" width="5.27" height="5.14" fill="#8c97c6"/>
<rect x="585.74" y="53.26" width="5.27" height="5.14" fill="#8c8fc2"/>
<rect x="591.01" y="53.26" width="5.27" height="5.14" fill="#8d98c7"/>
<rect x="596.29" y="53.26" width="5.27" height="5.14" fill="#8c82bc"/>
<rect x="601.56" y="53.26" width="5.27" height="5.14" fill="#8c84bd"/>
<rect x="606.83" y="53.26" width="5.27" height="5.14" fill="#8c79b8"/>
<rect x="612.11" y="53.26" width="5.27" height="5.14" fill="#8c7cb9"/>
<rect x="617.38" y="53.26" width="5.27" height="5.14" fill="#8c79b8"/>
<rect x="622.65" y="53.26" width="5.27" height="5.14" fill="#8c7ab8"/>
<rect x="627.92" y="53.26" width="5.27" height="5.14" fill="#8c79b8"/>
<rect x="633.20" y="53.26" width="5.27" height="5.14" fill="#8c76b7"/>
<rect x="638.47" y="53.26" width="5.27" height="5.14" fill="#8c7ab8"/>
<rect x="643.74" y="53.26" width="5.27" height="5.14" fill="#8c89c0"/>
<rect x="649.02" y="53.26" width="5.27" height="5.14" fill="#8d99c8"/>
<rect x="654.29" y="53.26" width="5.27" height="5.14" fill="#909fcb"/>
<rect x="659.56" y="53.26" width="5.27" height="5.14" fill="#9fbcda"/>
<rect x="664.84" y="53.26" width="5.27" height="5.14" fill="#a1bedb"/>
<rect x="670.11" y="53.26" width="5.27" height="5.14" fill="#c2d5e7"/>
<rect x="680.65" y="53.26" width="5.27" height="5.14" fill="#dbe8f2"/>
<rect x="506.65" y="48.11" width="5.27" height="5.14" fill="#b6cde3"/>
<rect x="511.92" y="48.11" width="5.27" height="5.14" fill="#c2d5e7"/>
<rect x="517.19" y="48.11" width="5.27" height="5.14" fill="#c7d9e9"/>
<rect x="522.46" y="48.11" width="5.27" height="5.14" fill="#cddeec"/>
<rect x="527.74" y="48.11" width="5.27" height="5.14" fill="#afc8e0"/>
<rect x="533.01" y="48.11" width="5.27" height="5.14" fill="#bed2e6"/>
<rect x="538.28" y="48.11" width="5.27" height="5.14" fill="#9bb6d7"/>
<rect x="543.56" y="48.11" width="5.27" height="5.14" fill="#a1bedb"/>
<rect x="548.83" y="48.11" width="5.27" height="5.14" fill="#a3bfdc"/>
<rect x="554.10" y="48.11" width="5.27" height="5.14" fill="#9fbcda"/>
<rect x="559.38" y="48.11" width="5.27" height="5.14" fill="#97add2"/>
<rect x="564.65" y="48.11" width="5.27" height="5.14" fill="#99b2d5"/>
<rect x="569.92" y="48.11" width="5.27" height="5.14" fill="#93a5ce"/>
<rect x="575.19" y="48.11" width="5.27" height="5.14" fill="#8d98c7"/>
<rect x="580.47" y="48.11" width="5.27" height="5.14" fill="#909eca"/>
<rect x="585.74" y="48.11" width="5.27" height="5.14" fill="#8c8bc0"/>
<rect x="591.01" y="48.11" width="10.55" height="5.14" fill="#8c89c0"/>
<rect x="601.56" y="48.11" width="5.27" height="5.14" fill="#8c88bf"/>
<rect x="606.83" y="48.11" width="5.27" height="5.14" fill="#8c76b7"/>
<rect x="612.11" y="48.11" width="5.27" height="5.14" fill="#8c74b5"/>
<rect x="617.38" y="48.11" width="5.27" height="5.14" fill="#8c72b5"/>
<rect x="622.65" y="48.11" width="5.27" height="5.14" fill="#8c78b7"/>
<rect x="627.92" y="48.11" width="5.27" height="5.14" fill="#8c75b6"/>
<rect x="633.20" y="48.11" width="5.27" height="5.14" fill="#8c72b5"/>
<rect x="638.47" y="48.11" width="5.27" height="5.14" fill="#8c6cb1"/>
<rect x="643.74" y="48.11" width="5.27" height="5.14" fill="#8c79b8"/>
<rect x="649.02" y="48.11" width="5.27" height="5.14" fill="#8c82bc"/>
<rect x="654.29" y="48.11" width="5.27" height="5.14" fill="#8c89c0"/>
<rect x="659.56" y="48.11" width="5.27" height="5.14" fill="#8f9bc9"/>
<rect x="664.84" y="48.11" width="5.27" height="5.14" fill="#99b2d5"/>
<rect x="670.11" y="48.11" width="5.27" height="5.14" fill="#b2cae1"/>
<rect x="675.38" y="48.11" width="5.27" height="5.14" fill="#c2d5e7"/>
<rect x="680.65" y="48.11" width="5.27" height="5.14" fill="#ebf4f8"/>
<rect x="506.65" y="42.97" width="5.27" height="5.14" fill="#d3e2ef"/>
<rect x="511.92" y="42.97" width="5.27" height="5.14" fill="#dbe8f2"/>
<rect x="517.19" y="42.97" width="5.27" height="5.14" fill="#d3e2ef"/>
<rect x="522.46" y="42.97" width="5.27" height="5.14" fill="#ebf4f8"/>
<rect x="527.74" y="42.97" width="5.27" height="5.14" fill="#bacfe4"/>
<rect x="533.01" y="42.97" width="5.27" height="5.14" fill="#a1bedb"/>
<rect x="538.28" y="42.97" width="5.27" height="5.14" fill="#9fbcda"/>
<rect x="543.56" y="42.97" width="5.27" height="5.14" fill="#b6cde3"/>
<rect x="548.83" y="42.97" width="5.27" height="5.14" fill="#adc7e0"/>
<rect x="554.10" y="42.97" width="5.27" height="5.14" fill="#b6cde3"/>
<rect x="559.38" y="42.97" width="5.27" height="5.14" fill="#a5c1dc"/>
<rect x="564.65" y="42.97" width="5.27" height="5.14" fill="#a3bfdc"/>
<rect x="569.92" y="42.97" width="5.27" height="5.14" fill="#94a6ce"/>
<rect x="575.19" y="42.97" width="5.27" height="5.14" fill="#8c93c4"/>
<rect x="580.47" y="42.97" width="5.27" height="5.14" fill="#8c8fc2"/>
<rect x="585.74" y="42.97" width="5.27" height="5.14" fill="#8c94c5"/>
<rect x="591.01" y="42.97" width="5.27" height="5.14" fill="#8c8dc2"/>
<rect x="596.29" y="42.97" width="5.27" height="5.14" fill="#8c89c0"/>
<rect x="601.56" y="42.97" width="5.27" height="5.14" fill="#8c80bb"/>
<rect x="606.83" y="42.97" width="5.27" height="5.14" fill="#8c74b5"/>
<rect x="612.11" y="42.97" width="5.27" height="5.14" fill="#8c78b7"/>
<rect x="617.38" y="42.97" width="5.27" height="5.14" fill="#8c75b6"/>
<rect x="622.65" y="42.97" width="5.27" height="5.14" fill="#8c6ab1"/>
<rect x="627.92" y="42.97" width="5.27" height="5.14" fill="#8c70b3"/>
<rect x="633.20" y="42.97" width="5.27" height="5.14" fill="#8c6cb1"/>
<rect x="638.47" y="42.97" width="5.27" height="5.14" fill="#8c68af"/>
<rect x="643.74" y="42.97" width="5.27" height="5.14" fill="#8c74b5"/>
<rect x="649.02" y="42.97" width="5.27" height="5.14" fill="#8c71b4"/>
<rect x="654.29" y="42.97" width="5.27" height="5.14" fill="#8c74b5"/>
<rect x="659.56" y="42.97" width="5.27" height="5.14" fill="#8c80bb"/>
<rect x="664.84" y="42.97" width="5.27" height="5.14" fill="#8c8dc2"/>
<rect x="670.11" y="42.97" width="5.27" height="5.14" fill="#92a4cd"/>
<rect x="675.38" y="42.97" width="5.27" height="5.14" fill="#9ab4d6"/>
<rect x="680.65" y="42.97" width="5.27" height="5.14" fill="#c7d9e9"/>
<rect x="506.65" y="37.83" width="5.27" height="5.14" fill="#cddeec"/>
<rect x="511.92" y="37.83" width="5.27" height="5.14" fill="#c7d9e9"/>
<rect x="517.19" y="37.83" width="5.27" height="5.14" fill="#c2d5e7"/>
<rect x="522.46" y="37.83" width="5.27" height="5.14" fill="#cddeec"/>
<rect x="527.74" y="37.83" width="5.27" height="5.14" fill="#b6cde3"/>
<rect x="533.01" y="37.83" width="5.27" height="5.14" fill="#b2cae1"/>
<rect x="538.28" y="37.83" width="5.27" height="5.14" fill="#bed2e6"/>
<rect x="543.56" y="37.83" width="5.27" height="5.14" fill="#c2d5e7"/>
<rect x="548.83" y="37.83" width="5.27" height="5.14" fill="#a5c1dc"/>
<rect x="554.10" y="37.83" width="5.27" height="5.14" fill="#9fbcda"/>
<rect x="559.38" y="37.83" width="10.55" height="5.14" fill="#a7c2dd"/>
<rect x="569.92" y="37.83" width="5.27" height="5.14" fill="#9ab4d6"/>
<rect x="575.19" y="37.83" width="10.55" height="5.14" fill="#91a1cc"/>
<rect x="585.74" y="37.83" width="5.27" height="5.14" fill="#8c90c3"/>
<rect x="591.01" y="37.83" width="5.27" height="5.14" fill="#8c8fc2"/>
<rect x="596.29" y="37.83" width="5.27" height="5.14" fill="#8c80bb"/>
<rect x="601.56" y="37.83" width="5.27" height="5.14" fill="#8c86be"/>
<rect x="606.83" y="37.83" width="5.27" height="5.14" fill="#8c76b7"/>
<rect x="612.11" y="37.83" width="5.27" height="5.14" fill="#8c78b7"/>
<rect x="617.38" y="37.83" width="5.27" height="5.14" fill="#8c71b4"/>
<rect x="622.65" y="37.83" width="5.27" height="5.14" fill="#8c72b5"/>
<rect x="627.92" y="37.83" width="10.55" height="5.14" fill="#8c68af"/>
<rect x="638.47" y="37.83" width="10.55" height="5.14" fill="#8c66af"/>
<rect x="649.02" y="37.83" width="5.27" height="5.14" fill="#8b61ac"/>
<rect x="654.29" y="37.83" width="5.27" height="5.14" fill="#8b62ad"/>
<rect x="659.56" y="37.83" width="5.27" height="5.14" fill="#8b65ae"/>
<rect x="664.84" y="37.83" width="5.27" height="5.14" fill="#8c68af"/>
<rect x="670.11" y="37.83" width="5.27" height="5.14" fill="#8c71b4"/>
<rect x="675.38" y="37.83" width="5.27" height="5.14" fill="#8c90c3"/>
<rect x="680.65" y="37.83" width="5.27" height="5.14" fill="#a5c1dc"/>
<rect x="506.65" y="32.68" width="5.27" height="5.14" fill="#dbe8f2"/>
<rect x="511.92" y="32.68" width="5.27" height="5.14" fill="#c7d9e9"/>
<rect x="517.19" y="32.68" width="5.27" height="5.14" fill="#c2d5e7"/>
<rect x="522.46" y="32.68" width="5.27" height="5.14" fill="#b6cde3"/>
<rect x="527.74" y="32.68" width="5.27" height="5.14" fill="#d3e2ef"/>
<rect x="533.01" y="32.68" width="5.27" height="5.14" fill="#b6cde3"/>
<rect x="538.28" y="32.68" width="5.27" height="5.14" fill="#c2d5e7"/>
<rect x="543.56" y="32.68" width="5.27" height="5.14" fill="#d3e2ef"/>
<rect x="548.83" y="32.68" width="5.27" height="5.14" fill="#c2d5e7"/>
<rect x="554.10" y="32.68" width="10.55" height="5.14" fill="#a3bfdc"/>
<rect x="564.65" y="32.68" width="5.27" height="5.14" fill="#9dbad9"/>
<rect x="569.92" y="32.68" width="5.27" height="5.14" fill="#9cb8d8"/>
<rect x="575.19" y="32.68" width="5.27" height="5.14" fill="#98aed3"/>
<rect x="580.47" y="32.68" width="5.27" height="5.14" fill="#97add2"/>
<rect x="585.74" y="32.68" width="5.27" height="5.14" fill="#93a5ce"/>
<rect x="591.01" y="32.68" width="5.27" height="5.14" fill="#8c97c6"/>
<rect x="596.29" y="32.68" width="5.27" height="5.14" fill="#8c95c6"/>
<rect x="601.56" y="32.68" width="5.27" height="5.14" fill="#8c85be"/>
<rect x="606.83" y="32.68" width="10.55" height="5.14" fill="#8c7dba"/>
<rect x="617.38" y="32.68" width="5.27" height="5.14" fill="#8c7ab8"/>
<rect x="622.65" y="32.68" width="5.27" height="5.14" fill="#8c6eb3"/>
<rect x="627.92" y="32.68" width="5.27" height="5.14" fill="#8c70b3"/>
<rect x="633.20" y="32.68" width="5.27" height="5.14" fill="#8c6db2"/>
<rect x="638.47" y="32.68" width="5.27" height="5.14" fill="#8c66af"/>
<rect x="643.74" y="32.68" width="5.27" height="5.14" fill="#8b60ac"/>
<rect x="649.02" y="32.68" width="5.27" height="5.14" fill="#8a59a8"/>
<rect x="654.29" y="32.68" width="5.27" height="5.14" fill="#8b5daa"/>
<rect x="659.56" y="32.68" width="5.27" height="5.14" fill="#8a5aa9"/>
<rect x="664.84" y="32.68" width="5.27" height="5.14" fill="#8a59a8"/>
<rect x="670.11" y="32.68" width="5.27" height="5.14" fill="#8c66af"/>
<rect x="675.38" y="32.68" width="5.27" height="5.14" fill="#8c74b5"/>
<rect x="680.65" y="32.68" width="5.27" height="5.14" fill="#8c8cc1"/>
<rect x="685.93" y="32.68" width="5.27" height="5.14" fill="#b6cde3"/>
<rect x="506.65" y="27.54" width="10.55" height="5.14" fill="#e3eef5"/>
<rect x="517.19" y="27.54" width="5.27" height="5.14" fill="#d3e2ef"/>
<rect x="522.46" y="27.54" width="5.27" height="5.14" fill="#e3eef5"/>
<rect x="527.74" y="27.54" width="5.27" height="5.14" fill="#dbe8f2"/>
<rect x="533.01" y="27.54" width="5.27" height="5.14" fill="#bacfe4"/>
<rect x="538.28" y="27.54" width="5.27" height="5.14" fill="#c7d9e9"/>
<rect x="543.56" y="27.54" width="5.27" height="5.14" fill="#b2cae1"/>
<rect x="548.83" y="27.54" width="5.27" height="5.14" fill="#bed2e6"/>
<rect x="554.10" y="27.54" width="5.27" height="5.14" fill="#adc7e0"/>
<rect x="559.38" y="27.54" width="5.27" height="5.14" fill="#bed2e6"/>
<rect x="564.65" y="27.54" width="5.27" height="5.14" fill="#adc7e0"/>
<rect x="569.92" y="27.54" width="5.27" height="5.14" fill="#9ab4d6"/>
<rect x="575.19" y="27.54" width="5.27" height="5.14" fill="#99b1d4"/>
<rect x="580.47" y="27.54" width="5.27" height="5.14" fill="#92a3cd"/>
<rect x="585.74" y="27.54" width="5.27" height="5.14" fill="#94a6ce"/>
<rect x="591.01" y="27.54" width="5.27" height="5.14" fill="#91a0cb"/>
<rect x="596.29" y="27.54" width="5.27" height="5.14" fill="#8e9ac8"/>
<rect x="601.56" y="27.54" width="5.27" height="5.14" fill="#8f9dc9"/>
<rect x="606.83" y="27.54" width="5.27" height="5.14" fill="#8c8fc2"/>
<rect x="612.11" y="27.54" width="5.27" height="5.14" fill="#8c89c0"/>
<rect x="617.38" y="27.54" width="5.27" height="5.14" fill="#8c79b8"/>
<rect x="622.65" y="27.54" width="10.55" height="5.14" fill="#8c74b5"/>
<rect x="633.20" y="27.54" width="5.27" height="5.14" fill="#8c69b0"/>
<rect x="638.47" y="27.54" width="5.27" height="5.14" fill="#8b60ac"/>
<rect x="643.74" y="27.54" width="5.27" height="5.14" fill="#8a58a8"/>
<rect x="649.02" y="27.54" width="5.27" height="5.14" fill="#8a51a5"/>
<rect x="654.29" y="27.54" width="5.27" height="5.14" fill="#8a59a8"/>
<rect x="659.56" y="27.54" width="5.27" height="5.14" fill="#894fa3"/>
<rect x="664.84" y="27.54" width="5.27" height="5.14" fill="#894da3"/>
<rect x="670.11" y="27.54" width="5.27" height="5.14" fill="#8a52a5"/>
<rect x="675.38" y="27.54" width="5.27" height="5.14" fill="#8a58a8"/>
<rect x="680.65" y="27.54" width="5.27" height="5.14" fill="#8b5daa"/>
<rect x="685.93" y="27.54" width="5.27" height="5.14" fill="#9cb8d8"/>
<rect x="511.92" y="22.39" width="5.27" height="5.14" fill="#e3eef5"/>
<rect x="522.46" y="22.39" width="5.27" height="5.14" fill="#dbe8f2"/>
<rect x="527.74" y="22.39" width="5.27" height="5.14" fill="#ebf4f8"/>
<rect x="533.01" y="22.39" width="5.27" height="5.14" fill="#f7fcfd"/>
<rect x="538.28" y="22.39" width="5.27" height="5.14" fill="#bacfe4"/>
<rect x="543.56" y="22.39" width="5.27" height="5.14" fill="#ebf4f8"/>
<rect x="548.83" y="22.39" width="5.27" height="5.14" fill="#aac4de"/>
<rect x="554.10" y="22.39" width="15.82" height="5.14" fill="#afc8e0"/>
<rect x="569.92" y="22.39" width="5.27" height="5.14" fill="#b2cae1"/>
<rect x="575.19" y="22.39" width="5.27" height="5.14" fill="#9dbad9"/>
<rect x="580.47" y="22.39" width="5.27" height="5.14" fill="#99b2d5"/>
<rect x="585.74" y="22.39" width="5.27" height="5.14" fill="#99b1d4"/>
<rect x="591.01" y="22.39" width="5.27" height="5.14" fill="#95a8d0"/>
<rect x="596.29" y="22.39" width="5.27" height="5.14" fill="#92a3cd"/>
<rect x="601.56" y="22.39" width="5.27" height="5.14" fill="#8c97c6"/>
<rect x="606.83" y="22.39" width="5.27" height="5.14" fill="#8d99c8"/>
<rect x="612.11" y="22.39" width="5.27" height="5.14" fill="#8c97c6"/>
<rect x="617.38" y="22.39" width="5.27" height="5.14" fill="#8c84bd"/>
<rect x="622.65" y="22.39" width="5.27" height="5.14" fill="#8c7dba"/>
<rect x="627.92" y="22.39" width="5.27" height="5.14" fill="#8c76b7"/>
<rect x="633.20" y="22.39" width="15.82" height="5.14" fill="#8c6ab1"/>
<rect x="649.02" y="22.39" width="5.27" height="5.14" fill="#8b64ad"/>
<rect x="654.29" y="22.39" width="5.27" height="5.14" fill="#8b5eab"/>
<rect x="659.56" y="22.39" width="10.55" height="5.14" fill="#8b5caa"/>
<rect x="670.11" y="22.39" width="5.27" height="5.14" fill="#8a54a6"/>
<rect x="675.38" y="22.39" width="5.27" height="5.14" fill="#8a56a7"/>
<rect x="680.65" y="22.39" width="5.27" height="5.14" fill="#8a51a5"/>
<rect x="685.93" y="22.39" width="5.27" height="5.14" fill="#91a0cb"/>
<rect x="506.65" y="17.25" width="10.55" height="5.14" fill="#ebf4f8"/>
<rect x="522.46" y="17.25" width="5.27" height="5.14" fill="#c7d9e9"/>
<rect x="527.74" y="17.25" width="10.55" height="5.14" fill="#ebf4f8"/>
<rect x="538.28" y="17.25" width="5.27" height="5.14" fill="#d3e2ef"/>
<rect x="543.56" y="17.25" width="5.27" height="5.14" fill="#cddeec"/>
<rect x="548.83" y="17.25" width="5.27" height="5.14" fill="#d3e2ef"/>
<rect x="554.10" y="17.25" width="5.27" height="5.14" fill="#c2d5e7"/>
<rect x="559.38" y="17.25" width="5.27" height="5.14" fill="#bed2e6"/>
<rect x="564.65" y="17.25" width="5.27" height="5.14" fill="#b2cae1"/>
<rect x="569.92" y="17.25" width="5.27" height="5.14" fill="#a3bfdc"/>
<rect x="575.19" y="17.25" width="5.27" height="5.14" fill="#bacfe4"/>
<rect x="580.47" y="17.25" width="5.27" height="5.14" fill="#adc7e0"/>
<rect x="585.74" y="17.25" width="5.27" height="5.14" fill="#98aed3"/>
<rect x="591.01" y="17.25" width="5.27" height="5.14" fill="#a5c1dc"/>
<rect x="596.29" y="17.25" width="5.27" height="5.14" fill="#94a6ce"/>
<rect x="601.56" y="17.25" width="5.27" height="5.14" fill="#99b1d4"/>
<rect x="606.83" y="17.25" width="5.27" height="5.14" fill="#95aad0"/>
<rect x="612.11" y="17.25" width="5.27" height="5.14" fill="#909eca"/>
<rect x="617.38" y="17.25" width="5.27" height="5.14" fill="#95a8d0"/>
<rect x="622.65" y="17.25" width="5.27" height="5.14" fill="#8c8dc2"/>
<rect x="627.92" y="17.25" width="5.27" height="5.14" fill="#8c86be"/>
<rect x="633.20" y="17.25" width="5.27" height="5.14" fill="#8c8bc0"/>
<rect x="638.47" y="17.25" width="5.27" height="5.14" fill="#8c76b7"/>
<rect x="643.74" y="17.25" width="5.27" height="5.14" fill="#8c75b6"/>
<rect x="649.02" y="17.25" width="10.55" height="5.14" fill="#8c76b7"/>
<rect x="659.56" y="17.25" width="10.55" height="5.14" fill="#8c74b5"/>
<rect x="670.11" y="17.25" width="5.27" height="5.14" fill="#8b64ad"/>
<rect x="675.38" y="17.25" width="5.27" height="5.14" fill="#8b5eab"/>
<rect x="680.65" y="17.25" width="5.27" height="5.14" fill="#8a51a5"/>
<rect x="685.93" y="17.25" width="5.27" height="5.14" fill="#99b2d5"/></g>
<line x1="427.55" x2="691.20" y1="145.85" y2="145.85" stroke="#ff0000" stroke-width="1.3"/><rect x="427.55" y="17.25" width="263.65" height="257.20" fill="none" stroke="#2a2a2a" stroke-width="0.7"/><line x1="427.55" x2="427.55" y1="274.45" y2="276.55" stroke="#2a2a2a" stroke-width="0.65"/><text x="427.55" y="287.55" class="tk" text-anchor="middle">0</text><line x1="480.71" x2="480.71" y1="274.45" y2="276.55" stroke="#2a2a2a" stroke-width="0.65"/><text x="480.71" y="287.55" class="tk" text-anchor="middle">20</text><line x1="533.86" x2="533.86" y1="274.45" y2="276.55" stroke="#2a2a2a" stroke-width="0.65"/><text x="533.86" y="287.55" class="tk" text-anchor="middle">40</text><line x1="587.02" x2="587.02" y1="274.45" y2="276.55" stroke="#2a2a2a" stroke-width="0.65"/><text x="587.02" y="287.55" class="tk" text-anchor="middle">60</text><line x1="640.17" x2="640.17" y1="274.45" y2="276.55" stroke="#2a2a2a" stroke-width="0.65"/><text x="640.17" y="287.55" class="tk" text-anchor="middle">80</text><line x1="425.45" x2="427.55" y1="224.42" y2="224.42" stroke="#2a2a2a" stroke-width="0.65"/><text x="423.55" y="228.42" class="tk" text-anchor="end">20</text><line x1="425.45" x2="427.55" y1="172.04" y2="172.04" stroke="#2a2a2a" stroke-width="0.65"/><text x="423.55" y="176.04" class="tk" text-anchor="end">40</text><line x1="425.45" x2="427.55" y1="119.66" y2="119.66" stroke="#2a2a2a" stroke-width="0.65"/><text x="423.55" y="123.66" class="tk" text-anchor="end">60</text><line x1="425.45" x2="427.55" y1="67.28" y2="67.28" stroke="#2a2a2a" stroke-width="0.65"/><text x="423.55" y="71.28" class="tk" text-anchor="end">80</text><text x="559.38" y="300.95" class="lb" text-anchor="middle">Confidence score in % (Object detector)</text><text transform="translate(405.50 145.40) rotate(-90)" class="lb" text-anchor="middle">Confidence score in % (Random Forest)</text>
<text x="442.8" y="58.1" class="pc">87.1%</text>
<text x="616.2" y="249.5" class="pc">12.9%</text>
<defs><linearGradient id="gb" x1="0" y1="0" x2="0" y2="1"><stop offset="0.0000" stop-color="#4d004b"/><stop offset="0.0312" stop-color="#580356"/><stop offset="0.0625" stop-color="#650762"/><stop offset="0.0938" stop-color="#730b6e"/><stop offset="0.1250" stop-color="#800f7b"/><stop offset="0.1562" stop-color="#831a83"/><stop offset="0.1875" stop-color="#84278c"/><stop offset="0.2188" stop-color="#863394"/><stop offset="0.2500" stop-color="#88409c"/><stop offset="0.2812" stop-color="#894ba2"/><stop offset="0.3125" stop-color="#8a55a7"/><stop offset="0.3438" stop-color="#8b60ac"/><stop offset="0.3750" stop-color="#8c6ab1"/><stop offset="0.4062" stop-color="#8c75b6"/><stop offset="0.4375" stop-color="#8c80bb"/><stop offset="0.4688" stop-color="#8c8bc0"/><stop offset="0.5000" stop-color="#8c95c6"/><stop offset="0.5312" stop-color="#909fcb"/><stop offset="0.5625" stop-color="#95a8d0"/><stop offset="0.5938" stop-color="#99b2d5"/><stop offset="0.6250" stop-color="#9ebcda"/><stop offset="0.6562" stop-color="#a6c2dd"/><stop offset="0.6875" stop-color="#aec7e0"/><stop offset="0.7188" stop-color="#b6cde3"/><stop offset="0.7500" stop-color="#bfd3e6"/><stop offset="0.7812" stop-color="#c7d9e9"/><stop offset="0.8125" stop-color="#cfdfed"/><stop offset="0.8438" stop-color="#d8e6f0"/><stop offset="0.8750" stop-color="#e0ecf4"/><stop offset="0.9062" stop-color="#e6f0f6"/><stop offset="0.9375" stop-color="#ebf4f8"/><stop offset="0.9688" stop-color="#f1f8fb"/><stop offset="1.0000" stop-color="#f7fcfd"/></linearGradient></defs><rect x="707.45" y="17.25" width="13.00" height="257.20" fill="url(#gb)" stroke="#222" stroke-width="0.65"/><line x1="720.45" x2="721.55" y1="274.45" y2="274.45" stroke="#333" stroke-width="0.5"/><line x1="720.45" x2="721.55" y1="257.87" y2="257.87" stroke="#333" stroke-width="0.5"/><line x1="720.45" x2="721.55" y1="246.11" y2="246.11" stroke="#333" stroke-width="0.5"/><line x1="720.45" x2="721.55" y1="236.99" y2="236.99" stroke="#333" stroke-width="0.5"/><line x1="720.45" x2="721.55" y1="229.54" y2="229.54" stroke="#333" stroke-width="0.5"/><line x1="720.45" x2="721.55" y1="223.24" y2="223.24" stroke="#333" stroke-width="0.5"/><line x1="720.45" x2="721.55" y1="217.78" y2="217.78" stroke="#333" stroke-width="0.5"/><line x1="720.45" x2="721.55" y1="212.96" y2="212.96" stroke="#333" stroke-width="0.5"/><line x1="720.45" x2="721.55" y1="180.32" y2="180.32" stroke="#333" stroke-width="0.5"/><line x1="720.45" x2="721.55" y1="163.74" y2="163.74" stroke="#333" stroke-width="0.5"/><line x1="720.45" x2="721.55" y1="151.98" y2="151.98" stroke="#333" stroke-width="0.5"/><line x1="720.45" x2="721.55" y1="142.86" y2="142.86" stroke="#333" stroke-width="0.5"/><line x1="720.45" x2="721.55" y1="135.41" y2="135.41" stroke="#333" stroke-width="0.5"/><line x1="720.45" x2="721.55" y1="129.11" y2="129.11" stroke="#333" stroke-width="0.5"/><line x1="720.45" x2="721.55" y1="123.65" y2="123.65" stroke="#333" stroke-width="0.5"/><line x1="720.45" x2="721.55" y1="118.83" y2="118.83" stroke="#333" stroke-width="0.5"/><line x1="720.45" x2="721.55" y1="86.19" y2="86.19" stroke="#333" stroke-width="0.5"/><line x1="720.45" x2="721.55" y1="69.61" y2="69.61" stroke="#333" stroke-width="0.5"/><line x1="720.45" x2="721.55" y1="57.85" y2="57.85" stroke="#333" stroke-width="0.5"/><line x1="720.45" x2="721.55" y1="48.73" y2="48.73" stroke="#333" stroke-width="0.5"/><line x1="720.45" x2="721.55" y1="41.28" y2="41.28" stroke="#333" stroke-width="0.5"/><line x1="720.45" x2="721.55" y1="34.98" y2="34.98" stroke="#333" stroke-width="0.5"/><line x1="720.45" x2="721.55" y1="29.52" y2="29.52" stroke="#333" stroke-width="0.5"/><line x1="720.45" x2="721.55" y1="24.70" y2="24.70" stroke="#333" stroke-width="0.5"/><line x1="720.45" x2="722.45" y1="208.66" y2="208.66" stroke="#222" stroke-width="0.65"/><text x="724.95" y="212.26" class="cb">10<tspan dy="-4.2" dx="0.1" font-size="6.6">1</tspan></text><line x1="720.45" x2="722.45" y1="114.53" y2="114.53" stroke="#222" stroke-width="0.65"/><text x="724.95" y="118.13" class="cb">10<tspan dy="-4.2" dx="0.1" font-size="6.6">2</tspan></text><line x1="720.45" x2="722.45" y1="20.40" y2="20.40" stroke="#222" stroke-width="0.65"/><text x="724.95" y="24.00" class="cb">10<tspan dy="-4.2" dx="0.1" font-size="6.6">3</tspan></text>
<text x="185.7" y="331.6" class="cap" text-anchor="middle">(<tspan font-weight="bold">a</tspan>)</text>
<text x="568.6" y="331.6" class="cap" text-anchor="middle">(<tspan font-weight="bold">b</tspan>)</text>
</svg>
</body></html>
